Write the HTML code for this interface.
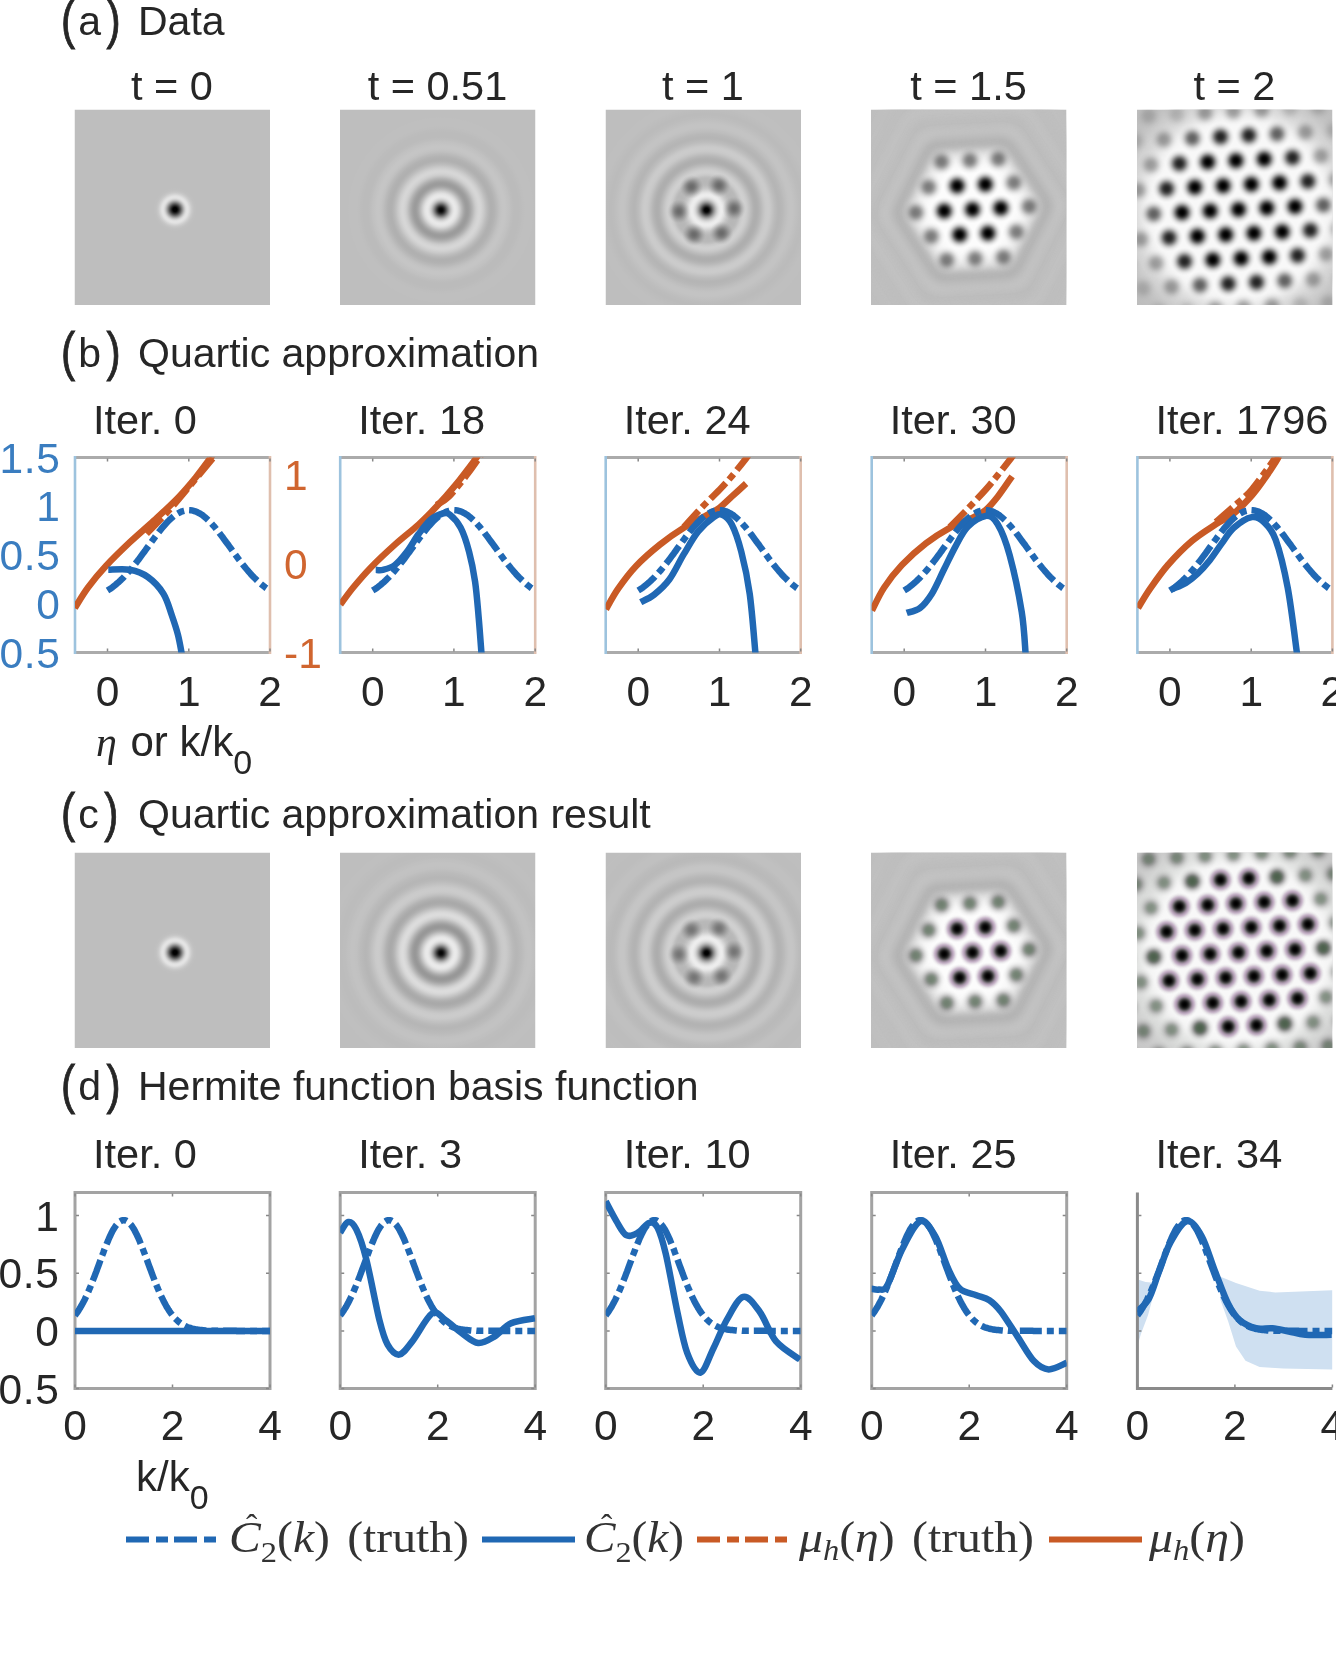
<!DOCTYPE html>
<html><head><meta charset="utf-8"><style>
html,body{margin:0;padding:0;background:#fff;width:1336px;height:1670px;overflow:hidden}
</style></head><body>
<svg width="1336" height="1670" viewBox="0 0 1336 1670" style="position:absolute;left:0;top:0;filter:blur(0.7px)">
<rect width="1336" height="1670" fill="#fff"/>
<text transform="translate(61,37.5) scale(0.8,1)" font-family='"Liberation Sans", sans-serif' fill="#262626" stroke="#262626" stroke-width="0.9" font-size="53">(</text>
<text x="78.3" y="35.0" font-family='"Liberation Sans", sans-serif' fill="#262626" font-size="41">a</text>
<text transform="translate(106.6,37.5) scale(0.8,1)" font-family='"Liberation Sans", sans-serif' fill="#262626" stroke="#262626" stroke-width="0.9" font-size="53">)</text>
<text x="138" y="35.0" font-family='"Liberation Sans", sans-serif' fill="#262626" font-size="41">Data</text>
<text transform="translate(61,369.5) scale(0.8,1)" font-family='"Liberation Sans", sans-serif' fill="#262626" stroke="#262626" stroke-width="0.9" font-size="53">(</text>
<text x="78.3" y="367.0" font-family='"Liberation Sans", sans-serif' fill="#262626" font-size="41">b</text>
<text transform="translate(106.6,369.5) scale(0.8,1)" font-family='"Liberation Sans", sans-serif' fill="#262626" stroke="#262626" stroke-width="0.9" font-size="53">)</text>
<text x="138" y="367.0" font-family='"Liberation Sans", sans-serif' fill="#262626" font-size="41">Quartic approximation</text>
<text transform="translate(61,830.5) scale(0.8,1)" font-family='"Liberation Sans", sans-serif' fill="#262626" stroke="#262626" stroke-width="0.9" font-size="53">(</text>
<text x="78.3" y="828.0" font-family='"Liberation Sans", sans-serif' fill="#262626" font-size="41">c</text>
<text transform="translate(104.3,830.5) scale(0.8,1)" font-family='"Liberation Sans", sans-serif' fill="#262626" stroke="#262626" stroke-width="0.9" font-size="53">)</text>
<text x="138" y="828.0" font-family='"Liberation Sans", sans-serif' fill="#262626" font-size="41">Quartic approximation result</text>
<text transform="translate(61,1102.5) scale(0.8,1)" font-family='"Liberation Sans", sans-serif' fill="#262626" stroke="#262626" stroke-width="0.9" font-size="53">(</text>
<text x="78.3" y="1100.0" font-family='"Liberation Sans", sans-serif' fill="#262626" font-size="41">d</text>
<text transform="translate(106.6,1102.5) scale(0.8,1)" font-family='"Liberation Sans", sans-serif' fill="#262626" stroke="#262626" stroke-width="0.9" font-size="53">)</text>
<text x="138" y="1100.0" font-family='"Liberation Sans", sans-serif' fill="#262626" font-size="41">Hermite function basis function</text>
<text x="172.0" y="100.0" font-size="41.5" text-anchor="middle" fill="#262626" font-family='"Liberation Sans", sans-serif' >t = 0</text>
<text x="437.5" y="100.0" font-size="41.5" text-anchor="middle" fill="#262626" font-family='"Liberation Sans", sans-serif' >t = 0.51</text>
<text x="703.0" y="100.0" font-size="41.5" text-anchor="middle" fill="#262626" font-family='"Liberation Sans", sans-serif' >t = 1</text>
<text x="968.5" y="100.0" font-size="41.5" text-anchor="middle" fill="#262626" font-family='"Liberation Sans", sans-serif' >t = 1.5</text>
<text x="1234.5" y="100.0" font-size="41.5" text-anchor="middle" fill="#262626" font-family='"Liberation Sans", sans-serif' >t = 2</text>
<text x="93.0" y="434.0" font-size="41.5" text-anchor="start" fill="#262626" font-family='"Liberation Sans", sans-serif' >Iter. 0</text>
<text x="358.2" y="434.0" font-size="41.5" text-anchor="start" fill="#262626" font-family='"Liberation Sans", sans-serif' >Iter. 18</text>
<text x="623.7" y="434.0" font-size="41.5" text-anchor="start" fill="#262626" font-family='"Liberation Sans", sans-serif' >Iter. 24</text>
<text x="889.7" y="434.0" font-size="41.5" text-anchor="start" fill="#262626" font-family='"Liberation Sans", sans-serif' >Iter. 30</text>
<text x="1155.4" y="434.0" font-size="41.5" text-anchor="start" fill="#262626" font-family='"Liberation Sans", sans-serif' >Iter. 1796</text>
<text x="93.0" y="1168.0" font-size="41.5" text-anchor="start" fill="#262626" font-family='"Liberation Sans", sans-serif' >Iter. 0</text>
<text x="358.2" y="1168.0" font-size="41.5" text-anchor="start" fill="#262626" font-family='"Liberation Sans", sans-serif' >Iter. 3</text>
<text x="623.7" y="1168.0" font-size="41.5" text-anchor="start" fill="#262626" font-family='"Liberation Sans", sans-serif' >Iter. 10</text>
<text x="889.7" y="1168.0" font-size="41.5" text-anchor="start" fill="#262626" font-family='"Liberation Sans", sans-serif' >Iter. 25</text>
<text x="1155.4" y="1168.0" font-size="41.5" text-anchor="start" fill="#262626" font-family='"Liberation Sans", sans-serif' >Iter. 34</text>
<defs><clipPath id="cs1"><rect x="74.5" y="109.5" width="195.5" height="195.5"/></clipPath></defs>
<defs><radialGradient id="rg2" gradientUnits="userSpaceOnUse" cx="175.0" cy="209.5" r="30"><stop offset="0.0000" stop-color="#000000"/><stop offset="0.0167" stop-color="#000000"/><stop offset="0.0333" stop-color="#000000"/><stop offset="0.0500" stop-color="#000000"/><stop offset="0.0667" stop-color="#030303"/><stop offset="0.0833" stop-color="#0b0b0b"/><stop offset="0.1000" stop-color="#161616"/><stop offset="0.1167" stop-color="#212121"/><stop offset="0.1333" stop-color="#2e2e2e"/><stop offset="0.1500" stop-color="#3b3b3b"/><stop offset="0.1667" stop-color="#4a4a4a"/><stop offset="0.1833" stop-color="#585858"/><stop offset="0.2000" stop-color="#676767"/><stop offset="0.2167" stop-color="#767676"/><stop offset="0.2333" stop-color="#858585"/><stop offset="0.2500" stop-color="#939393"/><stop offset="0.2667" stop-color="#a1a1a1"/><stop offset="0.2833" stop-color="#aeaeae"/><stop offset="0.3000" stop-color="#bbbbbb"/><stop offset="0.3167" stop-color="#c5c5c5"/><stop offset="0.3333" stop-color="#cfcfcf"/><stop offset="0.3500" stop-color="#d7d7d7"/><stop offset="0.3667" stop-color="#dddddd"/><stop offset="0.3833" stop-color="#e1e1e1"/><stop offset="0.4000" stop-color="#e3e3e3"/><stop offset="0.4167" stop-color="#e4e4e4"/><stop offset="0.4333" stop-color="#e3e3e3"/><stop offset="0.4500" stop-color="#e1e1e1"/><stop offset="0.4667" stop-color="#dedede"/><stop offset="0.4833" stop-color="#dadada"/><stop offset="0.5000" stop-color="#d6d6d6"/><stop offset="0.5167" stop-color="#d2d2d2"/><stop offset="0.5333" stop-color="#cfcfcf"/><stop offset="0.5500" stop-color="#cbcbcb"/><stop offset="0.5667" stop-color="#c8c8c8"/><stop offset="0.5833" stop-color="#c6c6c6"/><stop offset="0.6000" stop-color="#c4c4c4"/><stop offset="0.6167" stop-color="#c2c2c2"/><stop offset="0.6333" stop-color="#c1c1c1"/><stop offset="0.6500" stop-color="#c0c0c0"/><stop offset="0.6667" stop-color="#bfbfbf"/><stop offset="0.6833" stop-color="#bfbfbf"/><stop offset="0.7000" stop-color="#bfbfbf"/><stop offset="0.7167" stop-color="#bebebe"/><stop offset="0.7333" stop-color="#bebebe"/><stop offset="0.7500" stop-color="#bebebe"/><stop offset="0.7667" stop-color="#bebebe"/><stop offset="0.7833" stop-color="#bebebe"/><stop offset="0.8000" stop-color="#bebebe"/><stop offset="0.8167" stop-color="#bebebe"/><stop offset="0.8333" stop-color="#bebebe"/><stop offset="0.8500" stop-color="#bebebe"/><stop offset="0.8667" stop-color="#bebebe"/><stop offset="0.8833" stop-color="#bebebe"/><stop offset="0.9000" stop-color="#bebebe"/><stop offset="0.9167" stop-color="#bebebe"/><stop offset="0.9333" stop-color="#bebebe"/><stop offset="0.9500" stop-color="#bebebe"/><stop offset="0.9667" stop-color="#bebebe"/><stop offset="0.9833" stop-color="#bebebe"/><stop offset="1.0000" stop-color="#bebebe"/></radialGradient></defs>
<g clip-path="url(#cs1)"><rect x="74.5" y="109.5" width="195.5" height="195.5" fill="#bebebe"/>
<circle cx="175.0" cy="209.5" r="30" fill="url(#rg2)"/></g>
<defs><clipPath id="cs3"><rect x="340.0" y="109.5" width="195.5" height="195.5"/></clipPath></defs>
<defs><radialGradient id="rg4" gradientUnits="userSpaceOnUse" cx="441.0" cy="210.0" r="150"><stop offset="0.0000" stop-color="#050505"/><stop offset="0.0067" stop-color="#050505"/><stop offset="0.0133" stop-color="#0e0e0e"/><stop offset="0.0200" stop-color="#202020"/><stop offset="0.0267" stop-color="#373737"/><stop offset="0.0333" stop-color="#525252"/><stop offset="0.0400" stop-color="#6e6e6e"/><stop offset="0.0467" stop-color="#898989"/><stop offset="0.0533" stop-color="#a2a2a2"/><stop offset="0.0600" stop-color="#b8b8b8"/><stop offset="0.0667" stop-color="#cacaca"/><stop offset="0.0733" stop-color="#d7d7d7"/><stop offset="0.0800" stop-color="#e1e1e1"/><stop offset="0.0867" stop-color="#e7e7e7"/><stop offset="0.0933" stop-color="#e9e9e9"/><stop offset="0.1000" stop-color="#e7e7e7"/><stop offset="0.1067" stop-color="#e3e3e3"/><stop offset="0.1133" stop-color="#dddddd"/><stop offset="0.1200" stop-color="#d4d4d4"/><stop offset="0.1267" stop-color="#cbcbcb"/><stop offset="0.1333" stop-color="#c0c0c0"/><stop offset="0.1400" stop-color="#b7b7b7"/><stop offset="0.1467" stop-color="#aeaeae"/><stop offset="0.1533" stop-color="#a6a6a6"/><stop offset="0.1600" stop-color="#a0a0a0"/><stop offset="0.1667" stop-color="#9c9c9c"/><stop offset="0.1733" stop-color="#9b9b9b"/><stop offset="0.1800" stop-color="#9c9c9c"/><stop offset="0.1867" stop-color="#9f9f9f"/><stop offset="0.1933" stop-color="#a4a4a4"/><stop offset="0.2000" stop-color="#aaaaaa"/><stop offset="0.2067" stop-color="#b1b1b1"/><stop offset="0.2133" stop-color="#b8b8b8"/><stop offset="0.2200" stop-color="#c0c0c0"/><stop offset="0.2267" stop-color="#c7c7c7"/><stop offset="0.2333" stop-color="#cdcdcd"/><stop offset="0.2400" stop-color="#d1d1d1"/><stop offset="0.2467" stop-color="#d4d4d4"/><stop offset="0.2533" stop-color="#d6d6d6"/><stop offset="0.2600" stop-color="#d6d6d6"/><stop offset="0.2667" stop-color="#d4d4d4"/><stop offset="0.2733" stop-color="#d1d1d1"/><stop offset="0.2800" stop-color="#cdcdcd"/><stop offset="0.2867" stop-color="#c9c9c9"/><stop offset="0.2933" stop-color="#c4c4c4"/><stop offset="0.3000" stop-color="#bfbfbf"/><stop offset="0.3067" stop-color="#bbbbbb"/><stop offset="0.3133" stop-color="#b7b7b7"/><stop offset="0.3200" stop-color="#b4b4b4"/><stop offset="0.3267" stop-color="#b1b1b1"/><stop offset="0.3333" stop-color="#b0b0b0"/><stop offset="0.3400" stop-color="#b0b0b0"/><stop offset="0.3467" stop-color="#b1b1b1"/><stop offset="0.3533" stop-color="#b2b2b2"/><stop offset="0.3600" stop-color="#b4b4b4"/><stop offset="0.3667" stop-color="#b7b7b7"/><stop offset="0.3733" stop-color="#b9b9b9"/><stop offset="0.3800" stop-color="#bcbcbc"/><stop offset="0.3867" stop-color="#bfbfbf"/><stop offset="0.3933" stop-color="#c1c1c1"/><stop offset="0.4000" stop-color="#c3c3c3"/><stop offset="0.4067" stop-color="#c4c4c4"/><stop offset="0.4133" stop-color="#c5c5c5"/><stop offset="0.4200" stop-color="#c5c5c5"/><stop offset="0.4267" stop-color="#c5c5c5"/><stop offset="0.4333" stop-color="#c4c4c4"/><stop offset="0.4400" stop-color="#c3c3c3"/><stop offset="0.4467" stop-color="#c2c2c2"/><stop offset="0.4533" stop-color="#c1c1c1"/><stop offset="0.4600" stop-color="#c0c0c0"/><stop offset="0.4667" stop-color="#bebebe"/><stop offset="0.4733" stop-color="#bdbdbd"/><stop offset="0.4800" stop-color="#bcbcbc"/><stop offset="0.4867" stop-color="#bbbbbb"/><stop offset="0.4933" stop-color="#bbbbbb"/><stop offset="0.5000" stop-color="#bbbbbb"/><stop offset="0.5067" stop-color="#bbbbbb"/><stop offset="0.5133" stop-color="#bbbbbb"/><stop offset="0.5200" stop-color="#bbbbbb"/><stop offset="0.5267" stop-color="#bcbcbc"/><stop offset="0.5333" stop-color="#bcbcbc"/><stop offset="0.5400" stop-color="#bdbdbd"/><stop offset="0.5467" stop-color="#bebebe"/><stop offset="0.5533" stop-color="#bebebe"/><stop offset="0.5600" stop-color="#bfbfbf"/><stop offset="0.5667" stop-color="#bfbfbf"/><stop offset="0.5733" stop-color="#bfbfbf"/><stop offset="0.5800" stop-color="#bfbfbf"/><stop offset="0.5867" stop-color="#bfbfbf"/><stop offset="0.5933" stop-color="#bfbfbf"/><stop offset="0.6000" stop-color="#bfbfbf"/><stop offset="0.6067" stop-color="#bfbfbf"/><stop offset="0.6133" stop-color="#bfbfbf"/><stop offset="0.6200" stop-color="#bebebe"/><stop offset="0.6267" stop-color="#bebebe"/><stop offset="0.6333" stop-color="#bebebe"/><stop offset="0.6400" stop-color="#bebebe"/><stop offset="0.6467" stop-color="#bebebe"/><stop offset="0.6533" stop-color="#bebebe"/><stop offset="0.6600" stop-color="#bebebe"/><stop offset="0.6667" stop-color="#bebebe"/><stop offset="0.6733" stop-color="#bebebe"/><stop offset="0.6800" stop-color="#bebebe"/><stop offset="0.6867" stop-color="#bebebe"/><stop offset="0.6933" stop-color="#bebebe"/><stop offset="0.7000" stop-color="#bebebe"/><stop offset="0.7067" stop-color="#bebebe"/><stop offset="0.7133" stop-color="#bebebe"/><stop offset="0.7200" stop-color="#bebebe"/><stop offset="0.7267" stop-color="#bebebe"/><stop offset="0.7333" stop-color="#bebebe"/><stop offset="0.7400" stop-color="#bebebe"/><stop offset="0.7467" stop-color="#bebebe"/><stop offset="0.7533" stop-color="#bebebe"/><stop offset="0.7600" stop-color="#bebebe"/><stop offset="0.7667" stop-color="#bebebe"/><stop offset="0.7733" stop-color="#bebebe"/><stop offset="0.7800" stop-color="#bebebe"/><stop offset="0.7867" stop-color="#bebebe"/><stop offset="0.7933" stop-color="#bebebe"/><stop offset="0.8000" stop-color="#bebebe"/><stop offset="0.8067" stop-color="#bebebe"/><stop offset="0.8133" stop-color="#bebebe"/><stop offset="0.8200" stop-color="#bebebe"/><stop offset="0.8267" stop-color="#bebebe"/><stop offset="0.8333" stop-color="#bebebe"/><stop offset="0.8400" stop-color="#bebebe"/><stop offset="0.8467" stop-color="#bebebe"/><stop offset="0.8533" stop-color="#bebebe"/><stop offset="0.8600" stop-color="#bebebe"/><stop offset="0.8667" stop-color="#bebebe"/><stop offset="0.8733" stop-color="#bebebe"/><stop offset="0.8800" stop-color="#bebebe"/><stop offset="0.8867" stop-color="#bebebe"/><stop offset="0.8933" stop-color="#bebebe"/><stop offset="0.9000" stop-color="#bebebe"/><stop offset="0.9067" stop-color="#bebebe"/><stop offset="0.9133" stop-color="#bebebe"/><stop offset="0.9200" stop-color="#bebebe"/><stop offset="0.9267" stop-color="#bebebe"/><stop offset="0.9333" stop-color="#bebebe"/><stop offset="0.9400" stop-color="#bebebe"/><stop offset="0.9467" stop-color="#bebebe"/><stop offset="0.9533" stop-color="#bebebe"/><stop offset="0.9600" stop-color="#bebebe"/><stop offset="0.9667" stop-color="#bebebe"/><stop offset="0.9733" stop-color="#bebebe"/><stop offset="0.9800" stop-color="#bebebe"/><stop offset="0.9867" stop-color="#bebebe"/><stop offset="0.9933" stop-color="#bebebe"/><stop offset="1.0000" stop-color="#bebebe"/></radialGradient></defs>
<g clip-path="url(#cs3)"><rect x="340.0" y="109.5" width="195.5" height="195.5" fill="url(#rg4)"/>
</g>
<defs><clipPath id="cs5"><rect x="605.5" y="109.5" width="195.5" height="195.5"/></clipPath></defs>
<defs><radialGradient id="rg6" gradientUnits="userSpaceOnUse" cx="706.5" cy="210.0" r="150"><stop offset="0.0000" stop-color="#000000"/><stop offset="0.0067" stop-color="#000000"/><stop offset="0.0133" stop-color="#050505"/><stop offset="0.0200" stop-color="#191919"/><stop offset="0.0267" stop-color="#333333"/><stop offset="0.0333" stop-color="#4f4f4f"/><stop offset="0.0400" stop-color="#6b6b6b"/><stop offset="0.0467" stop-color="#868686"/><stop offset="0.0533" stop-color="#9e9e9e"/><stop offset="0.0600" stop-color="#b3b3b3"/><stop offset="0.0667" stop-color="#c5c5c5"/><stop offset="0.0733" stop-color="#d4d4d4"/><stop offset="0.0800" stop-color="#dfdfdf"/><stop offset="0.0867" stop-color="#e7e7e7"/><stop offset="0.0933" stop-color="#ececec"/><stop offset="0.1000" stop-color="#ededed"/><stop offset="0.1067" stop-color="#ebebeb"/><stop offset="0.1133" stop-color="#e6e6e6"/><stop offset="0.1200" stop-color="#e0e0e0"/><stop offset="0.1267" stop-color="#d8d8d8"/><stop offset="0.1333" stop-color="#d1d1d1"/><stop offset="0.1400" stop-color="#cacaca"/><stop offset="0.1467" stop-color="#c4c4c4"/><stop offset="0.1533" stop-color="#c0c0c0"/><stop offset="0.1600" stop-color="#bcbcbc"/><stop offset="0.1667" stop-color="#b9b9b9"/><stop offset="0.1733" stop-color="#b8b8b8"/><stop offset="0.1800" stop-color="#b7b7b7"/><stop offset="0.1867" stop-color="#b7b7b7"/><stop offset="0.1933" stop-color="#b7b7b7"/><stop offset="0.2000" stop-color="#b8b8b8"/><stop offset="0.2067" stop-color="#b8b8b8"/><stop offset="0.2133" stop-color="#bababa"/><stop offset="0.2200" stop-color="#bebebe"/><stop offset="0.2267" stop-color="#c3c3c3"/><stop offset="0.2333" stop-color="#c9c9c9"/><stop offset="0.2400" stop-color="#cccccc"/><stop offset="0.2467" stop-color="#cfcfcf"/><stop offset="0.2533" stop-color="#d0d0d0"/><stop offset="0.2600" stop-color="#cfcfcf"/><stop offset="0.2667" stop-color="#cdcdcd"/><stop offset="0.2733" stop-color="#cacaca"/><stop offset="0.2800" stop-color="#c6c6c6"/><stop offset="0.2867" stop-color="#c2c2c2"/><stop offset="0.2933" stop-color="#bdbdbd"/><stop offset="0.3000" stop-color="#b9b9b9"/><stop offset="0.3067" stop-color="#b5b5b5"/><stop offset="0.3133" stop-color="#b1b1b1"/><stop offset="0.3200" stop-color="#afafaf"/><stop offset="0.3267" stop-color="#aeaeae"/><stop offset="0.3333" stop-color="#aeaeae"/><stop offset="0.3400" stop-color="#afafaf"/><stop offset="0.3467" stop-color="#b1b1b1"/><stop offset="0.3533" stop-color="#b4b4b4"/><stop offset="0.3600" stop-color="#b7b7b7"/><stop offset="0.3667" stop-color="#bbbbbb"/><stop offset="0.3733" stop-color="#bfbfbf"/><stop offset="0.3800" stop-color="#c3c3c3"/><stop offset="0.3867" stop-color="#c6c6c6"/><stop offset="0.3933" stop-color="#c9c9c9"/><stop offset="0.4000" stop-color="#cacaca"/><stop offset="0.4067" stop-color="#cbcbcb"/><stop offset="0.4133" stop-color="#cbcbcb"/><stop offset="0.4200" stop-color="#cacaca"/><stop offset="0.4267" stop-color="#c8c8c8"/><stop offset="0.4333" stop-color="#c5c5c5"/><stop offset="0.4400" stop-color="#c2c2c2"/><stop offset="0.4467" stop-color="#bfbfbf"/><stop offset="0.4533" stop-color="#bcbcbc"/><stop offset="0.4600" stop-color="#bababa"/><stop offset="0.4667" stop-color="#b8b8b8"/><stop offset="0.4733" stop-color="#b6b6b6"/><stop offset="0.4800" stop-color="#b5b5b5"/><stop offset="0.4867" stop-color="#b5b5b5"/><stop offset="0.4933" stop-color="#b6b6b6"/><stop offset="0.5000" stop-color="#b7b7b7"/><stop offset="0.5067" stop-color="#b8b8b8"/><stop offset="0.5133" stop-color="#bababa"/><stop offset="0.5200" stop-color="#bcbcbc"/><stop offset="0.5267" stop-color="#bebebe"/><stop offset="0.5333" stop-color="#bfbfbf"/><stop offset="0.5400" stop-color="#c1c1c1"/><stop offset="0.5467" stop-color="#c2c2c2"/><stop offset="0.5533" stop-color="#c3c3c3"/><stop offset="0.5600" stop-color="#c3c3c3"/><stop offset="0.5667" stop-color="#c3c3c3"/><stop offset="0.5733" stop-color="#c3c3c3"/><stop offset="0.5800" stop-color="#c2c2c2"/><stop offset="0.5867" stop-color="#c1c1c1"/><stop offset="0.5933" stop-color="#c0c0c0"/><stop offset="0.6000" stop-color="#bfbfbf"/><stop offset="0.6067" stop-color="#bebebe"/><stop offset="0.6133" stop-color="#bdbdbd"/><stop offset="0.6200" stop-color="#bcbcbc"/><stop offset="0.6267" stop-color="#bcbcbc"/><stop offset="0.6333" stop-color="#bbbbbb"/><stop offset="0.6400" stop-color="#bbbbbb"/><stop offset="0.6467" stop-color="#bbbbbb"/><stop offset="0.6533" stop-color="#bcbcbc"/><stop offset="0.6600" stop-color="#bcbcbc"/><stop offset="0.6667" stop-color="#bdbdbd"/><stop offset="0.6733" stop-color="#bdbdbd"/><stop offset="0.6800" stop-color="#bebebe"/><stop offset="0.6867" stop-color="#bebebe"/><stop offset="0.6933" stop-color="#bfbfbf"/><stop offset="0.7000" stop-color="#bfbfbf"/><stop offset="0.7067" stop-color="#bfbfbf"/><stop offset="0.7133" stop-color="#bfbfbf"/><stop offset="0.7200" stop-color="#bfbfbf"/><stop offset="0.7267" stop-color="#bfbfbf"/><stop offset="0.7333" stop-color="#bfbfbf"/><stop offset="0.7400" stop-color="#bfbfbf"/><stop offset="0.7467" stop-color="#bebebe"/><stop offset="0.7533" stop-color="#bebebe"/><stop offset="0.7600" stop-color="#bebebe"/><stop offset="0.7667" stop-color="#bebebe"/><stop offset="0.7733" stop-color="#bebebe"/><stop offset="0.7800" stop-color="#bebebe"/><stop offset="0.7867" stop-color="#bebebe"/><stop offset="0.7933" stop-color="#bebebe"/><stop offset="0.8000" stop-color="#bebebe"/><stop offset="0.8067" stop-color="#bebebe"/><stop offset="0.8133" stop-color="#bebebe"/><stop offset="0.8200" stop-color="#bebebe"/><stop offset="0.8267" stop-color="#bebebe"/><stop offset="0.8333" stop-color="#bebebe"/><stop offset="0.8400" stop-color="#bebebe"/><stop offset="0.8467" stop-color="#bebebe"/><stop offset="0.8533" stop-color="#bebebe"/><stop offset="0.8600" stop-color="#bebebe"/><stop offset="0.8667" stop-color="#bebebe"/><stop offset="0.8733" stop-color="#bebebe"/><stop offset="0.8800" stop-color="#bebebe"/><stop offset="0.8867" stop-color="#bebebe"/><stop offset="0.8933" stop-color="#bebebe"/><stop offset="0.9000" stop-color="#bebebe"/><stop offset="0.9067" stop-color="#bebebe"/><stop offset="0.9133" stop-color="#bebebe"/><stop offset="0.9200" stop-color="#bebebe"/><stop offset="0.9267" stop-color="#bebebe"/><stop offset="0.9333" stop-color="#bebebe"/><stop offset="0.9400" stop-color="#bebebe"/><stop offset="0.9467" stop-color="#bebebe"/><stop offset="0.9533" stop-color="#bebebe"/><stop offset="0.9600" stop-color="#bebebe"/><stop offset="0.9667" stop-color="#bebebe"/><stop offset="0.9733" stop-color="#bebebe"/><stop offset="0.9800" stop-color="#bebebe"/><stop offset="0.9867" stop-color="#bebebe"/><stop offset="0.9933" stop-color="#bebebe"/><stop offset="1.0000" stop-color="#bebebe"/></radialGradient></defs>
<g clip-path="url(#cs5)"><rect x="605.5" y="109.5" width="195.5" height="195.5" fill="url(#rg6)"/>
<defs><radialGradient id="dotg"><stop offset="0.000" stop-color="#000" stop-opacity="1.000"/><stop offset="0.036" stop-color="#000" stop-opacity="0.999"/><stop offset="0.071" stop-color="#000" stop-opacity="0.996"/><stop offset="0.107" stop-color="#000" stop-opacity="0.987"/><stop offset="0.143" stop-color="#000" stop-opacity="0.973"/><stop offset="0.179" stop-color="#000" stop-opacity="0.953"/><stop offset="0.214" stop-color="#000" stop-opacity="0.925"/><stop offset="0.250" stop-color="#000" stop-opacity="0.890"/><stop offset="0.286" stop-color="#000" stop-opacity="0.848"/><stop offset="0.321" stop-color="#000" stop-opacity="0.800"/><stop offset="0.357" stop-color="#000" stop-opacity="0.745"/><stop offset="0.393" stop-color="#000" stop-opacity="0.686"/><stop offset="0.429" stop-color="#000" stop-opacity="0.623"/><stop offset="0.464" stop-color="#000" stop-opacity="0.558"/><stop offset="0.500" stop-color="#000" stop-opacity="0.492"/><stop offset="0.536" stop-color="#000" stop-opacity="0.428"/><stop offset="0.571" stop-color="#000" stop-opacity="0.365"/><stop offset="0.607" stop-color="#000" stop-opacity="0.307"/><stop offset="0.643" stop-color="#000" stop-opacity="0.253"/><stop offset="0.679" stop-color="#000" stop-opacity="0.204"/><stop offset="0.714" stop-color="#000" stop-opacity="0.161"/><stop offset="0.750" stop-color="#000" stop-opacity="0.124"/><stop offset="0.786" stop-color="#000" stop-opacity="0.092"/><stop offset="0.821" stop-color="#000" stop-opacity="0.067"/><stop offset="0.857" stop-color="#000" stop-opacity="0.046"/><stop offset="0.893" stop-color="#000" stop-opacity="0.029"/><stop offset="0.929" stop-color="#000" stop-opacity="0.017"/><stop offset="0.964" stop-color="#000" stop-opacity="0.007"/><stop offset="1.000" stop-color="#000" stop-opacity="0.000"/></radialGradient>
<radialGradient id="dotsoft"><stop offset="0.000" stop-color="#000" stop-opacity="1.000"/><stop offset="0.036" stop-color="#000" stop-opacity="0.996"/><stop offset="0.071" stop-color="#000" stop-opacity="0.984"/><stop offset="0.107" stop-color="#000" stop-opacity="0.963"/><stop offset="0.143" stop-color="#000" stop-opacity="0.936"/><stop offset="0.179" stop-color="#000" stop-opacity="0.901"/><stop offset="0.214" stop-color="#000" stop-opacity="0.861"/><stop offset="0.250" stop-color="#000" stop-opacity="0.815"/><stop offset="0.286" stop-color="#000" stop-opacity="0.765"/><stop offset="0.321" stop-color="#000" stop-opacity="0.712"/><stop offset="0.357" stop-color="#000" stop-opacity="0.657"/><stop offset="0.393" stop-color="#000" stop-opacity="0.601"/><stop offset="0.429" stop-color="#000" stop-opacity="0.545"/><stop offset="0.464" stop-color="#000" stop-opacity="0.489"/><stop offset="0.500" stop-color="#000" stop-opacity="0.434"/><stop offset="0.536" stop-color="#000" stop-opacity="0.382"/><stop offset="0.571" stop-color="#000" stop-opacity="0.333"/><stop offset="0.607" stop-color="#000" stop-opacity="0.286"/><stop offset="0.643" stop-color="#000" stop-opacity="0.243"/><stop offset="0.679" stop-color="#000" stop-opacity="0.203"/><stop offset="0.714" stop-color="#000" stop-opacity="0.168"/><stop offset="0.750" stop-color="#000" stop-opacity="0.135"/><stop offset="0.786" stop-color="#000" stop-opacity="0.107"/><stop offset="0.821" stop-color="#000" stop-opacity="0.082"/><stop offset="0.857" stop-color="#000" stop-opacity="0.060"/><stop offset="0.893" stop-color="#000" stop-opacity="0.041"/><stop offset="0.929" stop-color="#000" stop-opacity="0.025"/><stop offset="0.964" stop-color="#000" stop-opacity="0.011"/><stop offset="1.000" stop-color="#000" stop-opacity="0.000"/></radialGradient>
<radialGradient id="spotg"><stop offset="0.000" stop-color="#000" stop-opacity="1.000"/><stop offset="0.036" stop-color="#000" stop-opacity="0.998"/><stop offset="0.071" stop-color="#000" stop-opacity="0.992"/><stop offset="0.107" stop-color="#000" stop-opacity="0.981"/><stop offset="0.143" stop-color="#000" stop-opacity="0.964"/><stop offset="0.179" stop-color="#000" stop-opacity="0.942"/><stop offset="0.214" stop-color="#000" stop-opacity="0.914"/><stop offset="0.250" stop-color="#000" stop-opacity="0.881"/><stop offset="0.286" stop-color="#000" stop-opacity="0.844"/><stop offset="0.321" stop-color="#000" stop-opacity="0.802"/><stop offset="0.357" stop-color="#000" stop-opacity="0.756"/><stop offset="0.393" stop-color="#000" stop-opacity="0.708"/><stop offset="0.429" stop-color="#000" stop-opacity="0.657"/><stop offset="0.464" stop-color="#000" stop-opacity="0.604"/><stop offset="0.500" stop-color="#000" stop-opacity="0.551"/><stop offset="0.536" stop-color="#000" stop-opacity="0.497"/><stop offset="0.571" stop-color="#000" stop-opacity="0.444"/><stop offset="0.607" stop-color="#000" stop-opacity="0.392"/><stop offset="0.643" stop-color="#000" stop-opacity="0.342"/><stop offset="0.679" stop-color="#000" stop-opacity="0.294"/><stop offset="0.714" stop-color="#000" stop-opacity="0.249"/><stop offset="0.750" stop-color="#000" stop-opacity="0.206"/><stop offset="0.786" stop-color="#000" stop-opacity="0.167"/><stop offset="0.821" stop-color="#000" stop-opacity="0.131"/><stop offset="0.857" stop-color="#000" stop-opacity="0.098"/><stop offset="0.893" stop-color="#000" stop-opacity="0.069"/><stop offset="0.929" stop-color="#000" stop-opacity="0.043"/><stop offset="0.964" stop-color="#000" stop-opacity="0.020"/><stop offset="1.000" stop-color="#000" stop-opacity="0.000"/></radialGradient>
<filter id="blur6" x="-50%" y="-50%" width="200%" height="200%"><feGaussianBlur stdDeviation="7"/></filter>
<filter id="blur4" x="-50%" y="-50%" width="200%" height="200%"><feGaussianBlur stdDeviation="4.5"/></filter>
<filter id="blur3" x="-50%" y="-50%" width="200%" height="200%"><feGaussianBlur stdDeviation="3"/></filter>
<filter id="blur2" x="-50%" y="-50%" width="200%" height="200%"><feGaussianBlur stdDeviation="1.6"/></filter>
</defs>
<circle cx="734.0" cy="208.6" r="12" fill="url(#spotg)" opacity="0.42"/>
<circle cx="721.5" cy="233.1" r="12" fill="url(#spotg)" opacity="0.42"/>
<circle cx="694.0" cy="234.5" r="12" fill="url(#spotg)" opacity="0.42"/>
<circle cx="679.0" cy="211.4" r="12" fill="url(#spotg)" opacity="0.42"/>
<circle cx="691.5" cy="186.9" r="12" fill="url(#spotg)" opacity="0.42"/>
<circle cx="719.0" cy="185.5" r="12" fill="url(#spotg)" opacity="0.42"/>
</g>
<defs><clipPath id="cs7"><rect x="871.0" y="109.5" width="195.5" height="195.5"/></clipPath></defs>
<g clip-path="url(#cs7)"><rect x="871.0" y="109.5" width="195.5" height="195.5" fill="#bebebe"/>
<polygon points="1108.3,202.4 1046.6,323.6 910.8,330.7 836.7,216.6 898.4,95.4 1034.2,88.3" fill="none" stroke="#c1c1c1" stroke-width="11" stroke-linejoin="round" filter="url(#blur6)"/>
<polygon points="1096.3,203.0 1040.0,313.5 916.2,320.0 848.7,216.0 905.0,105.5 1028.8,99.0" fill="none" stroke="#bbbbbb" stroke-width="11" stroke-linejoin="round" filter="url(#blur6)"/>
<polygon points="1083.3,203.7 1033.0,302.6 922.1,308.4 861.7,215.3 912.0,116.4 1022.9,110.6" fill="none" stroke="#c6c6c6" stroke-width="11" stroke-linejoin="round" filter="url(#blur6)"/>
<polygon points="1070.4,204.4 1025.9,291.7 928.0,296.8 874.6,214.6 919.1,127.3 1017.0,122.2" fill="none" stroke="#b6b6b6" stroke-width="11" stroke-linejoin="round" filter="url(#blur6)"/>
<polygon points="1058.4,205.0 1019.3,281.6 933.5,286.1 886.6,214.0 925.7,137.4 1011.5,132.9" fill="none" stroke="#cdcdcd" stroke-width="11" stroke-linejoin="round" filter="url(#blur6)"/>
<polygon points="1047.4,205.6 1013.3,272.4 938.5,276.3 897.6,213.4 931.7,146.6 1006.5,142.7" fill="none" stroke="#a8a8a8" stroke-width="11" stroke-linejoin="round" filter="url(#blur6)"/>
<polygon points="1035.4,206.2 1006.8,262.3 943.9,265.6 909.6,212.8 938.2,156.7 1001.1,153.4" fill="#dadada" stroke="#dadada" stroke-width="8" stroke-linejoin="round" filter="url(#blur4)"/>
<polygon points="1032.4,206.4 1005.2,259.8 945.3,263.0 912.6,212.6 939.8,159.2 999.7,156.0" fill="#fcfcfc" filter="url(#blur6)"/>
<circle cx="916.0" cy="212.5" r="14" fill="url(#dotg)" opacity="0.48"/>
<circle cx="928.8" cy="187.2" r="14" fill="url(#dotg)" opacity="0.48"/>
<circle cx="941.7" cy="162.0" r="14" fill="url(#dotg)" opacity="0.48"/>
<circle cx="931.4" cy="236.2" r="14" fill="url(#dotg)" opacity="0.48"/>
<circle cx="944.2" cy="211.0" r="14" fill="url(#dotg)" opacity="1.00"/>
<circle cx="957.1" cy="185.8" r="14" fill="url(#dotg)" opacity="1.00"/>
<circle cx="969.9" cy="160.6" r="14" fill="url(#dotg)" opacity="0.48"/>
<circle cx="946.8" cy="259.9" r="14" fill="url(#dotg)" opacity="0.48"/>
<circle cx="959.7" cy="234.7" r="14" fill="url(#dotg)" opacity="1.00"/>
<circle cx="972.5" cy="209.5" r="14" fill="url(#dotg)" opacity="1.00"/>
<circle cx="985.3" cy="184.3" r="14" fill="url(#dotg)" opacity="1.00"/>
<circle cx="998.2" cy="159.1" r="14" fill="url(#dotg)" opacity="0.48"/>
<circle cx="975.1" cy="258.4" r="14" fill="url(#dotg)" opacity="0.48"/>
<circle cx="987.9" cy="233.2" r="14" fill="url(#dotg)" opacity="1.00"/>
<circle cx="1000.8" cy="208.0" r="14" fill="url(#dotg)" opacity="1.00"/>
<circle cx="1013.6" cy="182.8" r="14" fill="url(#dotg)" opacity="0.48"/>
<circle cx="1003.3" cy="257.0" r="14" fill="url(#dotg)" opacity="0.48"/>
<circle cx="1016.2" cy="231.8" r="14" fill="url(#dotg)" opacity="0.48"/>
<circle cx="1029.0" cy="206.5" r="14" fill="url(#dotg)" opacity="0.48"/>
</g>
<defs><clipPath id="cs8"><rect x="1137.0" y="109.5" width="195.5" height="195.5"/></clipPath></defs>
<g clip-path="url(#cs8)"><rect x="1137.0" y="109.5" width="195.5" height="195.5" fill="#bebebe"/>
<circle cx="1238.5" cy="209.5" r="118" fill="#d4d4d4" filter="url(#blur6)"/>
<circle cx="1238.5" cy="209.5" r="98" fill="#f8f8f8" filter="url(#blur6)"/>
<circle cx="1135.7" cy="141.3" r="14" fill="url(#dotg)" opacity="0.15"/>
<circle cx="1148.6" cy="116.0" r="14" fill="url(#dotg)" opacity="0.15"/>
<circle cx="1125.5" cy="215.4" r="14" fill="url(#dotg)" opacity="0.15"/>
<circle cx="1138.3" cy="190.2" r="14" fill="url(#dotg)" opacity="0.32"/>
<circle cx="1151.2" cy="165.0" r="14" fill="url(#dotg)" opacity="0.32"/>
<circle cx="1164.0" cy="139.8" r="14" fill="url(#dotg)" opacity="0.32"/>
<circle cx="1176.8" cy="114.6" r="14" fill="url(#dotg)" opacity="0.15"/>
<circle cx="1128.0" cy="264.4" r="14" fill="url(#dotg)" opacity="0.15"/>
<circle cx="1140.9" cy="239.2" r="14" fill="url(#dotg)" opacity="0.32"/>
<circle cx="1153.7" cy="213.9" r="14" fill="url(#dotg)" opacity="0.60"/>
<circle cx="1166.6" cy="188.7" r="14" fill="url(#dotg)" opacity="0.85"/>
<circle cx="1179.4" cy="163.5" r="14" fill="url(#dotg)" opacity="0.85"/>
<circle cx="1192.3" cy="138.3" r="14" fill="url(#dotg)" opacity="0.60"/>
<circle cx="1205.1" cy="113.1" r="14" fill="url(#dotg)" opacity="0.32"/>
<circle cx="1130.6" cy="313.3" r="14" fill="url(#dotg)" opacity="0.15"/>
<circle cx="1143.4" cy="288.1" r="14" fill="url(#dotg)" opacity="0.15"/>
<circle cx="1156.3" cy="262.9" r="14" fill="url(#dotg)" opacity="0.32"/>
<circle cx="1169.1" cy="237.7" r="14" fill="url(#dotg)" opacity="0.85"/>
<circle cx="1182.0" cy="212.5" r="14" fill="url(#dotg)" opacity="1.00"/>
<circle cx="1194.8" cy="187.2" r="14" fill="url(#dotg)" opacity="1.00"/>
<circle cx="1207.7" cy="162.0" r="14" fill="url(#dotg)" opacity="1.00"/>
<circle cx="1220.5" cy="136.8" r="14" fill="url(#dotg)" opacity="0.85"/>
<circle cx="1233.4" cy="111.6" r="14" fill="url(#dotg)" opacity="0.32"/>
<circle cx="1158.8" cy="311.8" r="14" fill="url(#dotg)" opacity="0.15"/>
<circle cx="1171.7" cy="286.6" r="14" fill="url(#dotg)" opacity="0.32"/>
<circle cx="1184.5" cy="261.4" r="14" fill="url(#dotg)" opacity="0.85"/>
<circle cx="1197.4" cy="236.2" r="14" fill="url(#dotg)" opacity="1.00"/>
<circle cx="1210.2" cy="211.0" r="14" fill="url(#dotg)" opacity="1.00"/>
<circle cx="1223.1" cy="185.8" r="14" fill="url(#dotg)" opacity="1.00"/>
<circle cx="1235.9" cy="160.6" r="14" fill="url(#dotg)" opacity="1.00"/>
<circle cx="1248.8" cy="135.3" r="14" fill="url(#dotg)" opacity="0.85"/>
<circle cx="1261.6" cy="110.1" r="14" fill="url(#dotg)" opacity="0.32"/>
<circle cx="1187.1" cy="310.4" r="14" fill="url(#dotg)" opacity="0.15"/>
<circle cx="1200.0" cy="285.1" r="14" fill="url(#dotg)" opacity="0.60"/>
<circle cx="1212.8" cy="259.9" r="14" fill="url(#dotg)" opacity="1.00"/>
<circle cx="1225.7" cy="234.7" r="14" fill="url(#dotg)" opacity="1.00"/>
<circle cx="1238.5" cy="209.5" r="14" fill="url(#dotg)" opacity="1.00"/>
<circle cx="1251.3" cy="184.3" r="14" fill="url(#dotg)" opacity="1.00"/>
<circle cx="1264.2" cy="159.1" r="14" fill="url(#dotg)" opacity="1.00"/>
<circle cx="1277.0" cy="133.9" r="14" fill="url(#dotg)" opacity="0.60"/>
<circle cx="1289.9" cy="108.6" r="14" fill="url(#dotg)" opacity="0.15"/>
<circle cx="1215.4" cy="308.9" r="14" fill="url(#dotg)" opacity="0.32"/>
<circle cx="1228.2" cy="283.7" r="14" fill="url(#dotg)" opacity="0.85"/>
<circle cx="1241.1" cy="258.4" r="14" fill="url(#dotg)" opacity="1.00"/>
<circle cx="1253.9" cy="233.2" r="14" fill="url(#dotg)" opacity="1.00"/>
<circle cx="1266.8" cy="208.0" r="14" fill="url(#dotg)" opacity="1.00"/>
<circle cx="1279.6" cy="182.8" r="14" fill="url(#dotg)" opacity="1.00"/>
<circle cx="1292.5" cy="157.6" r="14" fill="url(#dotg)" opacity="0.85"/>
<circle cx="1305.3" cy="132.4" r="14" fill="url(#dotg)" opacity="0.32"/>
<circle cx="1318.2" cy="107.2" r="14" fill="url(#dotg)" opacity="0.15"/>
<circle cx="1243.6" cy="307.4" r="14" fill="url(#dotg)" opacity="0.32"/>
<circle cx="1256.5" cy="282.2" r="14" fill="url(#dotg)" opacity="0.85"/>
<circle cx="1269.3" cy="257.0" r="14" fill="url(#dotg)" opacity="1.00"/>
<circle cx="1282.2" cy="231.8" r="14" fill="url(#dotg)" opacity="1.00"/>
<circle cx="1295.0" cy="206.5" r="14" fill="url(#dotg)" opacity="1.00"/>
<circle cx="1307.9" cy="181.3" r="14" fill="url(#dotg)" opacity="0.85"/>
<circle cx="1320.7" cy="156.1" r="14" fill="url(#dotg)" opacity="0.32"/>
<circle cx="1333.6" cy="130.9" r="14" fill="url(#dotg)" opacity="0.15"/>
<circle cx="1346.4" cy="105.7" r="14" fill="url(#dotg)" opacity="0.15"/>
<circle cx="1271.9" cy="305.9" r="14" fill="url(#dotg)" opacity="0.32"/>
<circle cx="1284.7" cy="280.7" r="14" fill="url(#dotg)" opacity="0.60"/>
<circle cx="1297.6" cy="255.5" r="14" fill="url(#dotg)" opacity="0.85"/>
<circle cx="1310.4" cy="230.3" r="14" fill="url(#dotg)" opacity="0.85"/>
<circle cx="1323.3" cy="205.1" r="14" fill="url(#dotg)" opacity="0.60"/>
<circle cx="1336.1" cy="179.8" r="14" fill="url(#dotg)" opacity="0.32"/>
<circle cx="1300.2" cy="304.4" r="14" fill="url(#dotg)" opacity="0.15"/>
<circle cx="1313.0" cy="279.2" r="14" fill="url(#dotg)" opacity="0.32"/>
<circle cx="1325.8" cy="254.0" r="14" fill="url(#dotg)" opacity="0.32"/>
<circle cx="1338.7" cy="228.8" r="14" fill="url(#dotg)" opacity="0.32"/>
<circle cx="1328.4" cy="303.0" r="14" fill="url(#dotg)" opacity="0.15"/>
<circle cx="1341.3" cy="277.7" r="14" fill="url(#dotg)" opacity="0.15"/>
</g>
<defs><clipPath id="cs9"><rect x="74.5" y="852.5" width="195.5" height="195.5"/></clipPath></defs>
<defs><radialGradient id="rg10" gradientUnits="userSpaceOnUse" cx="175.0" cy="952.5" r="30"><stop offset="0.0000" stop-color="#000000"/><stop offset="0.0167" stop-color="#000000"/><stop offset="0.0333" stop-color="#000000"/><stop offset="0.0500" stop-color="#000000"/><stop offset="0.0667" stop-color="#030303"/><stop offset="0.0833" stop-color="#0b0b0b"/><stop offset="0.1000" stop-color="#161616"/><stop offset="0.1167" stop-color="#212121"/><stop offset="0.1333" stop-color="#2e2e2e"/><stop offset="0.1500" stop-color="#3b3b3b"/><stop offset="0.1667" stop-color="#4a4a4a"/><stop offset="0.1833" stop-color="#585858"/><stop offset="0.2000" stop-color="#676767"/><stop offset="0.2167" stop-color="#767676"/><stop offset="0.2333" stop-color="#858585"/><stop offset="0.2500" stop-color="#939393"/><stop offset="0.2667" stop-color="#a1a1a1"/><stop offset="0.2833" stop-color="#aeaeae"/><stop offset="0.3000" stop-color="#bbbbbb"/><stop offset="0.3167" stop-color="#c5c5c5"/><stop offset="0.3333" stop-color="#cfcfcf"/><stop offset="0.3500" stop-color="#d7d7d7"/><stop offset="0.3667" stop-color="#dddddd"/><stop offset="0.3833" stop-color="#e1e1e1"/><stop offset="0.4000" stop-color="#e3e3e3"/><stop offset="0.4167" stop-color="#e4e4e4"/><stop offset="0.4333" stop-color="#e3e3e3"/><stop offset="0.4500" stop-color="#e1e1e1"/><stop offset="0.4667" stop-color="#dedede"/><stop offset="0.4833" stop-color="#dadada"/><stop offset="0.5000" stop-color="#d6d6d6"/><stop offset="0.5167" stop-color="#d2d2d2"/><stop offset="0.5333" stop-color="#cfcfcf"/><stop offset="0.5500" stop-color="#cbcbcb"/><stop offset="0.5667" stop-color="#c8c8c8"/><stop offset="0.5833" stop-color="#c6c6c6"/><stop offset="0.6000" stop-color="#c4c4c4"/><stop offset="0.6167" stop-color="#c2c2c2"/><stop offset="0.6333" stop-color="#c1c1c1"/><stop offset="0.6500" stop-color="#c0c0c0"/><stop offset="0.6667" stop-color="#bfbfbf"/><stop offset="0.6833" stop-color="#bfbfbf"/><stop offset="0.7000" stop-color="#bfbfbf"/><stop offset="0.7167" stop-color="#bebebe"/><stop offset="0.7333" stop-color="#bebebe"/><stop offset="0.7500" stop-color="#bebebe"/><stop offset="0.7667" stop-color="#bebebe"/><stop offset="0.7833" stop-color="#bebebe"/><stop offset="0.8000" stop-color="#bebebe"/><stop offset="0.8167" stop-color="#bebebe"/><stop offset="0.8333" stop-color="#bebebe"/><stop offset="0.8500" stop-color="#bebebe"/><stop offset="0.8667" stop-color="#bebebe"/><stop offset="0.8833" stop-color="#bebebe"/><stop offset="0.9000" stop-color="#bebebe"/><stop offset="0.9167" stop-color="#bebebe"/><stop offset="0.9333" stop-color="#bebebe"/><stop offset="0.9500" stop-color="#bebebe"/><stop offset="0.9667" stop-color="#bebebe"/><stop offset="0.9833" stop-color="#bebebe"/><stop offset="1.0000" stop-color="#bebebe"/></radialGradient></defs>
<g clip-path="url(#cs9)"><rect x="74.5" y="852.5" width="195.5" height="195.5" fill="#bebebe"/>
<circle cx="175.0" cy="952.5" r="30" fill="url(#rg10)"/></g>
<defs><clipPath id="cs11"><rect x="340.0" y="852.5" width="195.5" height="195.5"/></clipPath></defs>
<defs><radialGradient id="rg12" gradientUnits="userSpaceOnUse" cx="441.0" cy="953.0" r="150"><stop offset="0.0000" stop-color="#050505"/><stop offset="0.0067" stop-color="#050505"/><stop offset="0.0133" stop-color="#0e0e0e"/><stop offset="0.0200" stop-color="#202020"/><stop offset="0.0267" stop-color="#373737"/><stop offset="0.0333" stop-color="#525252"/><stop offset="0.0400" stop-color="#6e6e6e"/><stop offset="0.0467" stop-color="#898989"/><stop offset="0.0533" stop-color="#a2a2a2"/><stop offset="0.0600" stop-color="#b8b8b8"/><stop offset="0.0667" stop-color="#cacaca"/><stop offset="0.0733" stop-color="#d8d8d8"/><stop offset="0.0800" stop-color="#e2e2e2"/><stop offset="0.0867" stop-color="#e8e8e8"/><stop offset="0.0933" stop-color="#eaeaea"/><stop offset="0.1000" stop-color="#e9e9e9"/><stop offset="0.1067" stop-color="#e5e5e5"/><stop offset="0.1133" stop-color="#dedede"/><stop offset="0.1200" stop-color="#d5d5d5"/><stop offset="0.1267" stop-color="#cbcbcb"/><stop offset="0.1333" stop-color="#c1c1c1"/><stop offset="0.1400" stop-color="#b6b6b6"/><stop offset="0.1467" stop-color="#acacac"/><stop offset="0.1533" stop-color="#a4a4a4"/><stop offset="0.1600" stop-color="#9d9d9d"/><stop offset="0.1667" stop-color="#999999"/><stop offset="0.1733" stop-color="#979797"/><stop offset="0.1800" stop-color="#989898"/><stop offset="0.1867" stop-color="#9b9b9b"/><stop offset="0.1933" stop-color="#a0a0a0"/><stop offset="0.2000" stop-color="#a7a7a7"/><stop offset="0.2067" stop-color="#afafaf"/><stop offset="0.2133" stop-color="#b7b7b7"/><stop offset="0.2200" stop-color="#c0c0c0"/><stop offset="0.2267" stop-color="#c8c8c8"/><stop offset="0.2333" stop-color="#d0d0d0"/><stop offset="0.2400" stop-color="#d5d5d5"/><stop offset="0.2467" stop-color="#d9d9d9"/><stop offset="0.2533" stop-color="#dcdcdc"/><stop offset="0.2600" stop-color="#dcdcdc"/><stop offset="0.2667" stop-color="#dadada"/><stop offset="0.2733" stop-color="#d7d7d7"/><stop offset="0.2800" stop-color="#d2d2d2"/><stop offset="0.2867" stop-color="#cccccc"/><stop offset="0.2933" stop-color="#c6c6c6"/><stop offset="0.3000" stop-color="#c0c0c0"/><stop offset="0.3067" stop-color="#b9b9b9"/><stop offset="0.3133" stop-color="#b4b4b4"/><stop offset="0.3200" stop-color="#afafaf"/><stop offset="0.3267" stop-color="#acacac"/><stop offset="0.3333" stop-color="#aaaaaa"/><stop offset="0.3400" stop-color="#a9a9a9"/><stop offset="0.3467" stop-color="#aaaaaa"/><stop offset="0.3533" stop-color="#acacac"/><stop offset="0.3600" stop-color="#afafaf"/><stop offset="0.3667" stop-color="#b2b2b2"/><stop offset="0.3733" stop-color="#b6b6b6"/><stop offset="0.3800" stop-color="#bbbbbb"/><stop offset="0.3867" stop-color="#bfbfbf"/><stop offset="0.3933" stop-color="#c3c3c3"/><stop offset="0.4000" stop-color="#c6c6c6"/><stop offset="0.4067" stop-color="#c9c9c9"/><stop offset="0.4133" stop-color="#cacaca"/><stop offset="0.4200" stop-color="#cbcbcb"/><stop offset="0.4267" stop-color="#cbcbcb"/><stop offset="0.4333" stop-color="#cacaca"/><stop offset="0.4400" stop-color="#c9c9c9"/><stop offset="0.4467" stop-color="#c6c6c6"/><stop offset="0.4533" stop-color="#c4c4c4"/><stop offset="0.4600" stop-color="#c1c1c1"/><stop offset="0.4667" stop-color="#bfbfbf"/><stop offset="0.4733" stop-color="#bcbcbc"/><stop offset="0.4800" stop-color="#bababa"/><stop offset="0.4867" stop-color="#b8b8b8"/><stop offset="0.4933" stop-color="#b7b7b7"/><stop offset="0.5000" stop-color="#b6b6b6"/><stop offset="0.5067" stop-color="#b6b6b6"/><stop offset="0.5133" stop-color="#b7b7b7"/><stop offset="0.5200" stop-color="#b8b8b8"/><stop offset="0.5267" stop-color="#b9b9b9"/><stop offset="0.5333" stop-color="#bababa"/><stop offset="0.5400" stop-color="#bbbbbb"/><stop offset="0.5467" stop-color="#bdbdbd"/><stop offset="0.5533" stop-color="#bebebe"/><stop offset="0.5600" stop-color="#c0c0c0"/><stop offset="0.5667" stop-color="#c1c1c1"/><stop offset="0.5733" stop-color="#c1c1c1"/><stop offset="0.5800" stop-color="#c2c2c2"/><stop offset="0.5867" stop-color="#c2c2c2"/><stop offset="0.5933" stop-color="#c2c2c2"/><stop offset="0.6000" stop-color="#c2c2c2"/><stop offset="0.6067" stop-color="#c1c1c1"/><stop offset="0.6133" stop-color="#c0c0c0"/><stop offset="0.6200" stop-color="#c0c0c0"/><stop offset="0.6267" stop-color="#bfbfbf"/><stop offset="0.6333" stop-color="#bebebe"/><stop offset="0.6400" stop-color="#bdbdbd"/><stop offset="0.6467" stop-color="#bdbdbd"/><stop offset="0.6533" stop-color="#bdbdbd"/><stop offset="0.6600" stop-color="#bcbcbc"/><stop offset="0.6667" stop-color="#bcbcbc"/><stop offset="0.6733" stop-color="#bcbcbc"/><stop offset="0.6800" stop-color="#bcbcbc"/><stop offset="0.6867" stop-color="#bcbcbc"/><stop offset="0.6933" stop-color="#bdbdbd"/><stop offset="0.7000" stop-color="#bdbdbd"/><stop offset="0.7067" stop-color="#bdbdbd"/><stop offset="0.7133" stop-color="#bebebe"/><stop offset="0.7200" stop-color="#bebebe"/><stop offset="0.7267" stop-color="#bebebe"/><stop offset="0.7333" stop-color="#bfbfbf"/><stop offset="0.7400" stop-color="#bfbfbf"/><stop offset="0.7467" stop-color="#bfbfbf"/><stop offset="0.7533" stop-color="#bfbfbf"/><stop offset="0.7600" stop-color="#bfbfbf"/><stop offset="0.7667" stop-color="#bfbfbf"/><stop offset="0.7733" stop-color="#bfbfbf"/><stop offset="0.7800" stop-color="#bebebe"/><stop offset="0.7867" stop-color="#bebebe"/><stop offset="0.7933" stop-color="#bebebe"/><stop offset="0.8000" stop-color="#bebebe"/><stop offset="0.8067" stop-color="#bebebe"/><stop offset="0.8133" stop-color="#bebebe"/><stop offset="0.8200" stop-color="#bebebe"/><stop offset="0.8267" stop-color="#bebebe"/><stop offset="0.8333" stop-color="#bebebe"/><stop offset="0.8400" stop-color="#bebebe"/><stop offset="0.8467" stop-color="#bebebe"/><stop offset="0.8533" stop-color="#bebebe"/><stop offset="0.8600" stop-color="#bebebe"/><stop offset="0.8667" stop-color="#bebebe"/><stop offset="0.8733" stop-color="#bebebe"/><stop offset="0.8800" stop-color="#bebebe"/><stop offset="0.8867" stop-color="#bebebe"/><stop offset="0.8933" stop-color="#bebebe"/><stop offset="0.9000" stop-color="#bebebe"/><stop offset="0.9067" stop-color="#bebebe"/><stop offset="0.9133" stop-color="#bebebe"/><stop offset="0.9200" stop-color="#bebebe"/><stop offset="0.9267" stop-color="#bebebe"/><stop offset="0.9333" stop-color="#bebebe"/><stop offset="0.9400" stop-color="#bebebe"/><stop offset="0.9467" stop-color="#bebebe"/><stop offset="0.9533" stop-color="#bebebe"/><stop offset="0.9600" stop-color="#bebebe"/><stop offset="0.9667" stop-color="#bebebe"/><stop offset="0.9733" stop-color="#bebebe"/><stop offset="0.9800" stop-color="#bebebe"/><stop offset="0.9867" stop-color="#bebebe"/><stop offset="0.9933" stop-color="#bebebe"/><stop offset="1.0000" stop-color="#bebebe"/></radialGradient></defs>
<g clip-path="url(#cs11)"><rect x="340.0" y="852.5" width="195.5" height="195.5" fill="url(#rg12)"/>
</g>
<defs><clipPath id="cs13"><rect x="605.5" y="852.5" width="195.5" height="195.5"/></clipPath></defs>
<defs><radialGradient id="rg14" gradientUnits="userSpaceOnUse" cx="706.5" cy="953.0" r="150"><stop offset="0.0000" stop-color="#000000"/><stop offset="0.0067" stop-color="#000000"/><stop offset="0.0133" stop-color="#050505"/><stop offset="0.0200" stop-color="#191919"/><stop offset="0.0267" stop-color="#333333"/><stop offset="0.0333" stop-color="#4f4f4f"/><stop offset="0.0400" stop-color="#6b6b6b"/><stop offset="0.0467" stop-color="#868686"/><stop offset="0.0533" stop-color="#9e9e9e"/><stop offset="0.0600" stop-color="#b3b3b3"/><stop offset="0.0667" stop-color="#c5c5c5"/><stop offset="0.0733" stop-color="#d4d4d4"/><stop offset="0.0800" stop-color="#dfdfdf"/><stop offset="0.0867" stop-color="#e7e7e7"/><stop offset="0.0933" stop-color="#ececec"/><stop offset="0.1000" stop-color="#ededed"/><stop offset="0.1067" stop-color="#ebebeb"/><stop offset="0.1133" stop-color="#e6e6e6"/><stop offset="0.1200" stop-color="#e0e0e0"/><stop offset="0.1267" stop-color="#d8d8d8"/><stop offset="0.1333" stop-color="#d1d1d1"/><stop offset="0.1400" stop-color="#cacaca"/><stop offset="0.1467" stop-color="#c4c4c4"/><stop offset="0.1533" stop-color="#c0c0c0"/><stop offset="0.1600" stop-color="#bcbcbc"/><stop offset="0.1667" stop-color="#b9b9b9"/><stop offset="0.1733" stop-color="#b8b8b8"/><stop offset="0.1800" stop-color="#b7b7b7"/><stop offset="0.1867" stop-color="#b7b7b7"/><stop offset="0.1933" stop-color="#b7b7b7"/><stop offset="0.2000" stop-color="#b8b8b8"/><stop offset="0.2067" stop-color="#b8b8b8"/><stop offset="0.2133" stop-color="#bababa"/><stop offset="0.2200" stop-color="#bebebe"/><stop offset="0.2267" stop-color="#c3c3c3"/><stop offset="0.2333" stop-color="#c9c9c9"/><stop offset="0.2400" stop-color="#cdcdcd"/><stop offset="0.2467" stop-color="#cfcfcf"/><stop offset="0.2533" stop-color="#d0d0d0"/><stop offset="0.2600" stop-color="#cfcfcf"/><stop offset="0.2667" stop-color="#cdcdcd"/><stop offset="0.2733" stop-color="#cacaca"/><stop offset="0.2800" stop-color="#c6c6c6"/><stop offset="0.2867" stop-color="#c2c2c2"/><stop offset="0.2933" stop-color="#bdbdbd"/><stop offset="0.3000" stop-color="#b9b9b9"/><stop offset="0.3067" stop-color="#b5b5b5"/><stop offset="0.3133" stop-color="#b1b1b1"/><stop offset="0.3200" stop-color="#afafaf"/><stop offset="0.3267" stop-color="#adadad"/><stop offset="0.3333" stop-color="#adadad"/><stop offset="0.3400" stop-color="#aeaeae"/><stop offset="0.3467" stop-color="#b0b0b0"/><stop offset="0.3533" stop-color="#b3b3b3"/><stop offset="0.3600" stop-color="#b7b7b7"/><stop offset="0.3667" stop-color="#bbbbbb"/><stop offset="0.3733" stop-color="#c0c0c0"/><stop offset="0.3800" stop-color="#c4c4c4"/><stop offset="0.3867" stop-color="#c7c7c7"/><stop offset="0.3933" stop-color="#cacaca"/><stop offset="0.4000" stop-color="#cccccc"/><stop offset="0.4067" stop-color="#cccccc"/><stop offset="0.4133" stop-color="#cccccc"/><stop offset="0.4200" stop-color="#cbcbcb"/><stop offset="0.4267" stop-color="#c9c9c9"/><stop offset="0.4333" stop-color="#c6c6c6"/><stop offset="0.4400" stop-color="#c3c3c3"/><stop offset="0.4467" stop-color="#bfbfbf"/><stop offset="0.4533" stop-color="#bcbcbc"/><stop offset="0.4600" stop-color="#b9b9b9"/><stop offset="0.4667" stop-color="#b6b6b6"/><stop offset="0.4733" stop-color="#b4b4b4"/><stop offset="0.4800" stop-color="#b3b3b3"/><stop offset="0.4867" stop-color="#b3b3b3"/><stop offset="0.4933" stop-color="#b4b4b4"/><stop offset="0.5000" stop-color="#b5b5b5"/><stop offset="0.5067" stop-color="#b7b7b7"/><stop offset="0.5133" stop-color="#b9b9b9"/><stop offset="0.5200" stop-color="#bbbbbb"/><stop offset="0.5267" stop-color="#bebebe"/><stop offset="0.5333" stop-color="#c0c0c0"/><stop offset="0.5400" stop-color="#c2c2c2"/><stop offset="0.5467" stop-color="#c4c4c4"/><stop offset="0.5533" stop-color="#c5c5c5"/><stop offset="0.5600" stop-color="#c5c5c5"/><stop offset="0.5667" stop-color="#c5c5c5"/><stop offset="0.5733" stop-color="#c5c5c5"/><stop offset="0.5800" stop-color="#c4c4c4"/><stop offset="0.5867" stop-color="#c3c3c3"/><stop offset="0.5933" stop-color="#c1c1c1"/><stop offset="0.6000" stop-color="#bfbfbf"/><stop offset="0.6067" stop-color="#bebebe"/><stop offset="0.6133" stop-color="#bcbcbc"/><stop offset="0.6200" stop-color="#bbbbbb"/><stop offset="0.6267" stop-color="#bababa"/><stop offset="0.6333" stop-color="#bababa"/><stop offset="0.6400" stop-color="#b9b9b9"/><stop offset="0.6467" stop-color="#bababa"/><stop offset="0.6533" stop-color="#bababa"/><stop offset="0.6600" stop-color="#bbbbbb"/><stop offset="0.6667" stop-color="#bbbbbb"/><stop offset="0.6733" stop-color="#bcbcbc"/><stop offset="0.6800" stop-color="#bdbdbd"/><stop offset="0.6867" stop-color="#bebebe"/><stop offset="0.6933" stop-color="#bfbfbf"/><stop offset="0.7000" stop-color="#c0c0c0"/><stop offset="0.7067" stop-color="#c0c0c0"/><stop offset="0.7133" stop-color="#c0c0c0"/><stop offset="0.7200" stop-color="#c0c0c0"/><stop offset="0.7267" stop-color="#c0c0c0"/><stop offset="0.7333" stop-color="#c0c0c0"/><stop offset="0.7400" stop-color="#c0c0c0"/><stop offset="0.7467" stop-color="#bfbfbf"/><stop offset="0.7533" stop-color="#bfbfbf"/><stop offset="0.7600" stop-color="#bebebe"/><stop offset="0.7667" stop-color="#bebebe"/><stop offset="0.7733" stop-color="#bdbdbd"/><stop offset="0.7800" stop-color="#bdbdbd"/><stop offset="0.7867" stop-color="#bdbdbd"/><stop offset="0.7933" stop-color="#bdbdbd"/><stop offset="0.8000" stop-color="#bdbdbd"/><stop offset="0.8067" stop-color="#bdbdbd"/><stop offset="0.8133" stop-color="#bdbdbd"/><stop offset="0.8200" stop-color="#bdbdbd"/><stop offset="0.8267" stop-color="#bdbdbd"/><stop offset="0.8333" stop-color="#bebebe"/><stop offset="0.8400" stop-color="#bebebe"/><stop offset="0.8467" stop-color="#bebebe"/><stop offset="0.8533" stop-color="#bebebe"/><stop offset="0.8600" stop-color="#bebebe"/><stop offset="0.8667" stop-color="#bebebe"/><stop offset="0.8733" stop-color="#bfbfbf"/><stop offset="0.8800" stop-color="#bebebe"/><stop offset="0.8867" stop-color="#bebebe"/><stop offset="0.8933" stop-color="#bebebe"/><stop offset="0.9000" stop-color="#bebebe"/><stop offset="0.9067" stop-color="#bebebe"/><stop offset="0.9133" stop-color="#bebebe"/><stop offset="0.9200" stop-color="#bebebe"/><stop offset="0.9267" stop-color="#bebebe"/><stop offset="0.9333" stop-color="#bebebe"/><stop offset="0.9400" stop-color="#bebebe"/><stop offset="0.9467" stop-color="#bebebe"/><stop offset="0.9533" stop-color="#bebebe"/><stop offset="0.9600" stop-color="#bebebe"/><stop offset="0.9667" stop-color="#bebebe"/><stop offset="0.9733" stop-color="#bebebe"/><stop offset="0.9800" stop-color="#bebebe"/><stop offset="0.9867" stop-color="#bebebe"/><stop offset="0.9933" stop-color="#bebebe"/><stop offset="1.0000" stop-color="#bebebe"/></radialGradient></defs>
<g clip-path="url(#cs13)"><rect x="605.5" y="852.5" width="195.5" height="195.5" fill="url(#rg14)"/>
<circle cx="734.0" cy="951.6" r="12" fill="url(#spotg)" opacity="0.36"/>
<circle cx="721.5" cy="976.1" r="12" fill="url(#spotg)" opacity="0.36"/>
<circle cx="694.0" cy="977.5" r="12" fill="url(#spotg)" opacity="0.36"/>
<circle cx="679.0" cy="954.4" r="12" fill="url(#spotg)" opacity="0.36"/>
<circle cx="691.5" cy="929.9" r="12" fill="url(#spotg)" opacity="0.36"/>
<circle cx="719.0" cy="928.5" r="12" fill="url(#spotg)" opacity="0.36"/>
</g>
<defs><clipPath id="cs15"><rect x="871.0" y="852.5" width="195.5" height="195.5"/></clipPath></defs>
<g clip-path="url(#cs15)"><rect x="871.0" y="852.5" width="195.5" height="195.5" fill="#bebebe"/>
<polygon points="1108.3,945.4 1046.6,1066.6 910.8,1073.7 836.7,959.6 898.4,838.4 1034.2,831.3" fill="none" stroke="#c1c1c1" stroke-width="11" stroke-linejoin="round" filter="url(#blur6)"/>
<polygon points="1096.3,946.0 1040.0,1056.5 916.2,1063.0 848.7,959.0 905.0,848.5 1028.8,842.0" fill="none" stroke="#bbbbbb" stroke-width="11" stroke-linejoin="round" filter="url(#blur6)"/>
<polygon points="1083.3,946.7 1033.0,1045.6 922.1,1051.4 861.7,958.3 912.0,859.4 1022.9,853.6" fill="none" stroke="#c6c6c6" stroke-width="11" stroke-linejoin="round" filter="url(#blur6)"/>
<polygon points="1070.4,947.4 1025.9,1034.7 928.0,1039.8 874.6,957.6 919.1,870.3 1017.0,865.2" fill="none" stroke="#b6b6b6" stroke-width="11" stroke-linejoin="round" filter="url(#blur6)"/>
<polygon points="1058.4,948.0 1019.3,1024.6 933.5,1029.1 886.6,957.0 925.7,880.4 1011.5,875.9" fill="none" stroke="#cdcdcd" stroke-width="11" stroke-linejoin="round" filter="url(#blur6)"/>
<polygon points="1047.4,948.6 1013.3,1015.4 938.5,1019.3 897.6,956.4 931.7,889.6 1006.5,885.7" fill="none" stroke="#a8a8a8" stroke-width="11" stroke-linejoin="round" filter="url(#blur6)"/>
<polygon points="1035.4,949.2 1006.8,1005.3 943.9,1008.6 909.6,955.8 938.2,899.7 1001.1,896.4" fill="#dadada" stroke="#dadada" stroke-width="8" stroke-linejoin="round" filter="url(#blur4)"/>
<polygon points="1032.4,949.4 1005.2,1002.8 945.3,1006.0 912.6,955.6 939.8,902.2 999.7,899.0" fill="#fcfcfc" filter="url(#blur6)"/>
<circle cx="916.0" cy="955.5" r="14" fill="url(#dotg)" opacity="0.48"/>
<circle cx="916.0" cy="955.5" r="5" fill="#5b8f5b" opacity="0.29" filter="url(#blur2)"/>
<circle cx="928.8" cy="930.2" r="14" fill="url(#dotg)" opacity="0.48"/>
<circle cx="928.8" cy="930.2" r="5" fill="#5b8f5b" opacity="0.29" filter="url(#blur2)"/>
<circle cx="941.7" cy="905.0" r="14" fill="url(#dotg)" opacity="0.48"/>
<circle cx="941.7" cy="905.0" r="5" fill="#5b8f5b" opacity="0.29" filter="url(#blur2)"/>
<circle cx="931.4" cy="979.2" r="14" fill="url(#dotg)" opacity="0.48"/>
<circle cx="931.4" cy="979.2" r="5" fill="#5b8f5b" opacity="0.29" filter="url(#blur2)"/>
<circle cx="944.2" cy="954.0" r="14" fill="url(#dotg)" opacity="1.00"/>
<circle cx="944.2" cy="954.0" r="9" fill="none" stroke="#c47ccc" stroke-width="2.2" opacity="0.5" filter="url(#blur2)"/>
<circle cx="957.1" cy="928.8" r="14" fill="url(#dotg)" opacity="1.00"/>
<circle cx="957.1" cy="928.8" r="9" fill="none" stroke="#c47ccc" stroke-width="2.2" opacity="0.5" filter="url(#blur2)"/>
<circle cx="969.9" cy="903.6" r="14" fill="url(#dotg)" opacity="0.48"/>
<circle cx="969.9" cy="903.6" r="5" fill="#5b8f5b" opacity="0.29" filter="url(#blur2)"/>
<circle cx="946.8" cy="1002.9" r="14" fill="url(#dotg)" opacity="0.48"/>
<circle cx="946.8" cy="1002.9" r="5" fill="#5b8f5b" opacity="0.29" filter="url(#blur2)"/>
<circle cx="959.7" cy="977.7" r="14" fill="url(#dotg)" opacity="1.00"/>
<circle cx="959.7" cy="977.7" r="9" fill="none" stroke="#c47ccc" stroke-width="2.2" opacity="0.5" filter="url(#blur2)"/>
<circle cx="972.5" cy="952.5" r="14" fill="url(#dotg)" opacity="1.00"/>
<circle cx="972.5" cy="952.5" r="9" fill="none" stroke="#c47ccc" stroke-width="2.2" opacity="0.5" filter="url(#blur2)"/>
<circle cx="985.3" cy="927.3" r="14" fill="url(#dotg)" opacity="1.00"/>
<circle cx="985.3" cy="927.3" r="9" fill="none" stroke="#c47ccc" stroke-width="2.2" opacity="0.5" filter="url(#blur2)"/>
<circle cx="998.2" cy="902.1" r="14" fill="url(#dotg)" opacity="0.48"/>
<circle cx="998.2" cy="902.1" r="5" fill="#5b8f5b" opacity="0.29" filter="url(#blur2)"/>
<circle cx="975.1" cy="1001.4" r="14" fill="url(#dotg)" opacity="0.48"/>
<circle cx="975.1" cy="1001.4" r="5" fill="#5b8f5b" opacity="0.29" filter="url(#blur2)"/>
<circle cx="987.9" cy="976.2" r="14" fill="url(#dotg)" opacity="1.00"/>
<circle cx="987.9" cy="976.2" r="9" fill="none" stroke="#c47ccc" stroke-width="2.2" opacity="0.5" filter="url(#blur2)"/>
<circle cx="1000.8" cy="951.0" r="14" fill="url(#dotg)" opacity="1.00"/>
<circle cx="1000.8" cy="951.0" r="9" fill="none" stroke="#c47ccc" stroke-width="2.2" opacity="0.5" filter="url(#blur2)"/>
<circle cx="1013.6" cy="925.8" r="14" fill="url(#dotg)" opacity="0.48"/>
<circle cx="1013.6" cy="925.8" r="5" fill="#5b8f5b" opacity="0.29" filter="url(#blur2)"/>
<circle cx="1003.3" cy="1000.0" r="14" fill="url(#dotg)" opacity="0.48"/>
<circle cx="1003.3" cy="1000.0" r="5" fill="#5b8f5b" opacity="0.29" filter="url(#blur2)"/>
<circle cx="1016.2" cy="974.8" r="14" fill="url(#dotg)" opacity="0.48"/>
<circle cx="1016.2" cy="974.8" r="5" fill="#5b8f5b" opacity="0.29" filter="url(#blur2)"/>
<circle cx="1029.0" cy="949.5" r="14" fill="url(#dotg)" opacity="0.48"/>
<circle cx="1029.0" cy="949.5" r="5" fill="#5b8f5b" opacity="0.29" filter="url(#blur2)"/>
</g>
<defs><clipPath id="cs16"><rect x="1137.0" y="852.5" width="195.5" height="195.5"/></clipPath></defs>
<g clip-path="url(#cs16)"><rect x="1137.0" y="852.5" width="195.5" height="195.5" fill="#c8c8c8"/>
<circle cx="1238.5" cy="952.5" r="118" fill="#dadcda" filter="url(#blur6)"/>
<circle cx="1238.5" cy="952.5" r="98" fill="#f8f8f8" filter="url(#blur6)"/>
<circle cx="1135.7" cy="884.3" r="14" fill="url(#dotg)" opacity="0.40"/>
<circle cx="1135.7" cy="884.3" r="5" fill="#5b8f5b" opacity="0.24" filter="url(#blur2)"/>
<circle cx="1148.6" cy="859.0" r="14" fill="url(#dotg)" opacity="0.40"/>
<circle cx="1148.6" cy="859.0" r="5" fill="#5b8f5b" opacity="0.24" filter="url(#blur2)"/>
<circle cx="1125.5" cy="958.4" r="14" fill="url(#dotg)" opacity="0.40"/>
<circle cx="1125.5" cy="958.4" r="5" fill="#5b8f5b" opacity="0.24" filter="url(#blur2)"/>
<circle cx="1138.3" cy="933.2" r="14" fill="url(#dotg)" opacity="0.38"/>
<circle cx="1138.3" cy="933.2" r="5" fill="#5b8f5b" opacity="0.23" filter="url(#blur2)"/>
<circle cx="1151.2" cy="908.0" r="14" fill="url(#dotg)" opacity="0.38"/>
<circle cx="1151.2" cy="908.0" r="5" fill="#5b8f5b" opacity="0.23" filter="url(#blur2)"/>
<circle cx="1164.0" cy="882.8" r="14" fill="url(#dotg)" opacity="0.38"/>
<circle cx="1164.0" cy="882.8" r="5" fill="#5b8f5b" opacity="0.23" filter="url(#blur2)"/>
<circle cx="1176.8" cy="857.6" r="14" fill="url(#dotg)" opacity="0.40"/>
<circle cx="1176.8" cy="857.6" r="5" fill="#5b8f5b" opacity="0.24" filter="url(#blur2)"/>
<circle cx="1128.0" cy="1007.4" r="14" fill="url(#dotg)" opacity="0.40"/>
<circle cx="1128.0" cy="1007.4" r="5" fill="#5b8f5b" opacity="0.24" filter="url(#blur2)"/>
<circle cx="1140.9" cy="982.2" r="14" fill="url(#dotg)" opacity="0.38"/>
<circle cx="1140.9" cy="982.2" r="5" fill="#5b8f5b" opacity="0.23" filter="url(#blur2)"/>
<circle cx="1153.7" cy="956.9" r="14" fill="url(#dotg)" opacity="0.72"/>
<circle cx="1153.7" cy="956.9" r="5" fill="#5b8f5b" opacity="0.38" filter="url(#blur2)"/>
<circle cx="1166.6" cy="931.7" r="14" fill="url(#dotg)" opacity="1.00"/>
<circle cx="1166.6" cy="931.7" r="9" fill="none" stroke="#c47ccc" stroke-width="2.2" opacity="0.5" filter="url(#blur2)"/>
<circle cx="1179.4" cy="906.5" r="14" fill="url(#dotg)" opacity="1.00"/>
<circle cx="1179.4" cy="906.5" r="9" fill="none" stroke="#c47ccc" stroke-width="2.2" opacity="0.5" filter="url(#blur2)"/>
<circle cx="1192.3" cy="881.3" r="14" fill="url(#dotg)" opacity="0.72"/>
<circle cx="1192.3" cy="881.3" r="5" fill="#5b8f5b" opacity="0.38" filter="url(#blur2)"/>
<circle cx="1205.1" cy="856.1" r="14" fill="url(#dotg)" opacity="0.38"/>
<circle cx="1205.1" cy="856.1" r="5" fill="#5b8f5b" opacity="0.23" filter="url(#blur2)"/>
<circle cx="1130.6" cy="1056.3" r="14" fill="url(#dotg)" opacity="0.40"/>
<circle cx="1130.6" cy="1056.3" r="5" fill="#5b8f5b" opacity="0.24" filter="url(#blur2)"/>
<circle cx="1143.4" cy="1031.1" r="14" fill="url(#dotg)" opacity="0.40"/>
<circle cx="1143.4" cy="1031.1" r="5" fill="#5b8f5b" opacity="0.24" filter="url(#blur2)"/>
<circle cx="1156.3" cy="1005.9" r="14" fill="url(#dotg)" opacity="0.38"/>
<circle cx="1156.3" cy="1005.9" r="5" fill="#5b8f5b" opacity="0.23" filter="url(#blur2)"/>
<circle cx="1169.1" cy="980.7" r="14" fill="url(#dotg)" opacity="1.00"/>
<circle cx="1169.1" cy="980.7" r="9" fill="none" stroke="#c47ccc" stroke-width="2.2" opacity="0.5" filter="url(#blur2)"/>
<circle cx="1182.0" cy="955.5" r="14" fill="url(#dotg)" opacity="1.00"/>
<circle cx="1182.0" cy="955.5" r="9" fill="none" stroke="#c47ccc" stroke-width="2.2" opacity="0.5" filter="url(#blur2)"/>
<circle cx="1194.8" cy="930.2" r="14" fill="url(#dotg)" opacity="1.00"/>
<circle cx="1194.8" cy="930.2" r="9" fill="none" stroke="#c47ccc" stroke-width="2.2" opacity="0.5" filter="url(#blur2)"/>
<circle cx="1207.7" cy="905.0" r="14" fill="url(#dotg)" opacity="1.00"/>
<circle cx="1207.7" cy="905.0" r="9" fill="none" stroke="#c47ccc" stroke-width="2.2" opacity="0.5" filter="url(#blur2)"/>
<circle cx="1220.5" cy="879.8" r="14" fill="url(#dotg)" opacity="1.00"/>
<circle cx="1220.5" cy="879.8" r="9" fill="none" stroke="#c47ccc" stroke-width="2.2" opacity="0.5" filter="url(#blur2)"/>
<circle cx="1233.4" cy="854.6" r="14" fill="url(#dotg)" opacity="0.38"/>
<circle cx="1233.4" cy="854.6" r="5" fill="#5b8f5b" opacity="0.23" filter="url(#blur2)"/>
<circle cx="1158.8" cy="1054.8" r="14" fill="url(#dotg)" opacity="0.40"/>
<circle cx="1158.8" cy="1054.8" r="5" fill="#5b8f5b" opacity="0.24" filter="url(#blur2)"/>
<circle cx="1171.7" cy="1029.6" r="14" fill="url(#dotg)" opacity="0.38"/>
<circle cx="1171.7" cy="1029.6" r="5" fill="#5b8f5b" opacity="0.23" filter="url(#blur2)"/>
<circle cx="1184.5" cy="1004.4" r="14" fill="url(#dotg)" opacity="1.00"/>
<circle cx="1184.5" cy="1004.4" r="9" fill="none" stroke="#c47ccc" stroke-width="2.2" opacity="0.5" filter="url(#blur2)"/>
<circle cx="1197.4" cy="979.2" r="14" fill="url(#dotg)" opacity="1.00"/>
<circle cx="1197.4" cy="979.2" r="9" fill="none" stroke="#c47ccc" stroke-width="2.2" opacity="0.5" filter="url(#blur2)"/>
<circle cx="1210.2" cy="954.0" r="14" fill="url(#dotg)" opacity="1.00"/>
<circle cx="1210.2" cy="954.0" r="9" fill="none" stroke="#c47ccc" stroke-width="2.2" opacity="0.5" filter="url(#blur2)"/>
<circle cx="1223.1" cy="928.8" r="14" fill="url(#dotg)" opacity="1.00"/>
<circle cx="1223.1" cy="928.8" r="9" fill="none" stroke="#c47ccc" stroke-width="2.2" opacity="0.5" filter="url(#blur2)"/>
<circle cx="1235.9" cy="903.6" r="14" fill="url(#dotg)" opacity="1.00"/>
<circle cx="1235.9" cy="903.6" r="9" fill="none" stroke="#c47ccc" stroke-width="2.2" opacity="0.5" filter="url(#blur2)"/>
<circle cx="1248.8" cy="878.3" r="14" fill="url(#dotg)" opacity="1.00"/>
<circle cx="1248.8" cy="878.3" r="9" fill="none" stroke="#c47ccc" stroke-width="2.2" opacity="0.5" filter="url(#blur2)"/>
<circle cx="1261.6" cy="853.1" r="14" fill="url(#dotg)" opacity="0.38"/>
<circle cx="1261.6" cy="853.1" r="5" fill="#5b8f5b" opacity="0.23" filter="url(#blur2)"/>
<circle cx="1187.1" cy="1053.4" r="14" fill="url(#dotg)" opacity="0.40"/>
<circle cx="1187.1" cy="1053.4" r="5" fill="#5b8f5b" opacity="0.24" filter="url(#blur2)"/>
<circle cx="1200.0" cy="1028.1" r="14" fill="url(#dotg)" opacity="0.72"/>
<circle cx="1200.0" cy="1028.1" r="5" fill="#5b8f5b" opacity="0.38" filter="url(#blur2)"/>
<circle cx="1212.8" cy="1002.9" r="14" fill="url(#dotg)" opacity="1.00"/>
<circle cx="1212.8" cy="1002.9" r="9" fill="none" stroke="#c47ccc" stroke-width="2.2" opacity="0.5" filter="url(#blur2)"/>
<circle cx="1225.7" cy="977.7" r="14" fill="url(#dotg)" opacity="1.00"/>
<circle cx="1225.7" cy="977.7" r="9" fill="none" stroke="#c47ccc" stroke-width="2.2" opacity="0.5" filter="url(#blur2)"/>
<circle cx="1238.5" cy="952.5" r="14" fill="url(#dotg)" opacity="1.00"/>
<circle cx="1238.5" cy="952.5" r="9" fill="none" stroke="#c47ccc" stroke-width="2.2" opacity="0.5" filter="url(#blur2)"/>
<circle cx="1251.3" cy="927.3" r="14" fill="url(#dotg)" opacity="1.00"/>
<circle cx="1251.3" cy="927.3" r="9" fill="none" stroke="#c47ccc" stroke-width="2.2" opacity="0.5" filter="url(#blur2)"/>
<circle cx="1264.2" cy="902.1" r="14" fill="url(#dotg)" opacity="1.00"/>
<circle cx="1264.2" cy="902.1" r="9" fill="none" stroke="#c47ccc" stroke-width="2.2" opacity="0.5" filter="url(#blur2)"/>
<circle cx="1277.0" cy="876.9" r="14" fill="url(#dotg)" opacity="0.72"/>
<circle cx="1277.0" cy="876.9" r="5" fill="#5b8f5b" opacity="0.38" filter="url(#blur2)"/>
<circle cx="1289.9" cy="851.6" r="14" fill="url(#dotg)" opacity="0.40"/>
<circle cx="1289.9" cy="851.6" r="5" fill="#5b8f5b" opacity="0.24" filter="url(#blur2)"/>
<circle cx="1215.4" cy="1051.9" r="14" fill="url(#dotg)" opacity="0.38"/>
<circle cx="1215.4" cy="1051.9" r="5" fill="#5b8f5b" opacity="0.23" filter="url(#blur2)"/>
<circle cx="1228.2" cy="1026.7" r="14" fill="url(#dotg)" opacity="1.00"/>
<circle cx="1228.2" cy="1026.7" r="9" fill="none" stroke="#c47ccc" stroke-width="2.2" opacity="0.5" filter="url(#blur2)"/>
<circle cx="1241.1" cy="1001.4" r="14" fill="url(#dotg)" opacity="1.00"/>
<circle cx="1241.1" cy="1001.4" r="9" fill="none" stroke="#c47ccc" stroke-width="2.2" opacity="0.5" filter="url(#blur2)"/>
<circle cx="1253.9" cy="976.2" r="14" fill="url(#dotg)" opacity="1.00"/>
<circle cx="1253.9" cy="976.2" r="9" fill="none" stroke="#c47ccc" stroke-width="2.2" opacity="0.5" filter="url(#blur2)"/>
<circle cx="1266.8" cy="951.0" r="14" fill="url(#dotg)" opacity="1.00"/>
<circle cx="1266.8" cy="951.0" r="9" fill="none" stroke="#c47ccc" stroke-width="2.2" opacity="0.5" filter="url(#blur2)"/>
<circle cx="1279.6" cy="925.8" r="14" fill="url(#dotg)" opacity="1.00"/>
<circle cx="1279.6" cy="925.8" r="9" fill="none" stroke="#c47ccc" stroke-width="2.2" opacity="0.5" filter="url(#blur2)"/>
<circle cx="1292.5" cy="900.6" r="14" fill="url(#dotg)" opacity="1.00"/>
<circle cx="1292.5" cy="900.6" r="9" fill="none" stroke="#c47ccc" stroke-width="2.2" opacity="0.5" filter="url(#blur2)"/>
<circle cx="1305.3" cy="875.4" r="14" fill="url(#dotg)" opacity="0.38"/>
<circle cx="1305.3" cy="875.4" r="5" fill="#5b8f5b" opacity="0.23" filter="url(#blur2)"/>
<circle cx="1318.2" cy="850.2" r="14" fill="url(#dotg)" opacity="0.40"/>
<circle cx="1318.2" cy="850.2" r="5" fill="#5b8f5b" opacity="0.24" filter="url(#blur2)"/>
<circle cx="1243.6" cy="1050.4" r="14" fill="url(#dotg)" opacity="0.38"/>
<circle cx="1243.6" cy="1050.4" r="5" fill="#5b8f5b" opacity="0.23" filter="url(#blur2)"/>
<circle cx="1256.5" cy="1025.2" r="14" fill="url(#dotg)" opacity="1.00"/>
<circle cx="1256.5" cy="1025.2" r="9" fill="none" stroke="#c47ccc" stroke-width="2.2" opacity="0.5" filter="url(#blur2)"/>
<circle cx="1269.3" cy="1000.0" r="14" fill="url(#dotg)" opacity="1.00"/>
<circle cx="1269.3" cy="1000.0" r="9" fill="none" stroke="#c47ccc" stroke-width="2.2" opacity="0.5" filter="url(#blur2)"/>
<circle cx="1282.2" cy="974.8" r="14" fill="url(#dotg)" opacity="1.00"/>
<circle cx="1282.2" cy="974.8" r="9" fill="none" stroke="#c47ccc" stroke-width="2.2" opacity="0.5" filter="url(#blur2)"/>
<circle cx="1295.0" cy="949.5" r="14" fill="url(#dotg)" opacity="1.00"/>
<circle cx="1295.0" cy="949.5" r="9" fill="none" stroke="#c47ccc" stroke-width="2.2" opacity="0.5" filter="url(#blur2)"/>
<circle cx="1307.9" cy="924.3" r="14" fill="url(#dotg)" opacity="1.00"/>
<circle cx="1307.9" cy="924.3" r="9" fill="none" stroke="#c47ccc" stroke-width="2.2" opacity="0.5" filter="url(#blur2)"/>
<circle cx="1320.7" cy="899.1" r="14" fill="url(#dotg)" opacity="0.38"/>
<circle cx="1320.7" cy="899.1" r="5" fill="#5b8f5b" opacity="0.23" filter="url(#blur2)"/>
<circle cx="1333.6" cy="873.9" r="14" fill="url(#dotg)" opacity="0.40"/>
<circle cx="1333.6" cy="873.9" r="5" fill="#5b8f5b" opacity="0.24" filter="url(#blur2)"/>
<circle cx="1346.4" cy="848.7" r="14" fill="url(#dotg)" opacity="0.40"/>
<circle cx="1346.4" cy="848.7" r="5" fill="#5b8f5b" opacity="0.24" filter="url(#blur2)"/>
<circle cx="1271.9" cy="1048.9" r="14" fill="url(#dotg)" opacity="0.38"/>
<circle cx="1271.9" cy="1048.9" r="5" fill="#5b8f5b" opacity="0.23" filter="url(#blur2)"/>
<circle cx="1284.7" cy="1023.7" r="14" fill="url(#dotg)" opacity="0.72"/>
<circle cx="1284.7" cy="1023.7" r="5" fill="#5b8f5b" opacity="0.38" filter="url(#blur2)"/>
<circle cx="1297.6" cy="998.5" r="14" fill="url(#dotg)" opacity="1.00"/>
<circle cx="1297.6" cy="998.5" r="9" fill="none" stroke="#c47ccc" stroke-width="2.2" opacity="0.5" filter="url(#blur2)"/>
<circle cx="1310.4" cy="973.3" r="14" fill="url(#dotg)" opacity="1.00"/>
<circle cx="1310.4" cy="973.3" r="9" fill="none" stroke="#c47ccc" stroke-width="2.2" opacity="0.5" filter="url(#blur2)"/>
<circle cx="1323.3" cy="948.1" r="14" fill="url(#dotg)" opacity="0.72"/>
<circle cx="1323.3" cy="948.1" r="5" fill="#5b8f5b" opacity="0.38" filter="url(#blur2)"/>
<circle cx="1336.1" cy="922.8" r="14" fill="url(#dotg)" opacity="0.38"/>
<circle cx="1336.1" cy="922.8" r="5" fill="#5b8f5b" opacity="0.23" filter="url(#blur2)"/>
<circle cx="1300.2" cy="1047.4" r="14" fill="url(#dotg)" opacity="0.40"/>
<circle cx="1300.2" cy="1047.4" r="5" fill="#5b8f5b" opacity="0.24" filter="url(#blur2)"/>
<circle cx="1313.0" cy="1022.2" r="14" fill="url(#dotg)" opacity="0.38"/>
<circle cx="1313.0" cy="1022.2" r="5" fill="#5b8f5b" opacity="0.23" filter="url(#blur2)"/>
<circle cx="1325.8" cy="997.0" r="14" fill="url(#dotg)" opacity="0.38"/>
<circle cx="1325.8" cy="997.0" r="5" fill="#5b8f5b" opacity="0.23" filter="url(#blur2)"/>
<circle cx="1338.7" cy="971.8" r="14" fill="url(#dotg)" opacity="0.38"/>
<circle cx="1338.7" cy="971.8" r="5" fill="#5b8f5b" opacity="0.23" filter="url(#blur2)"/>
<circle cx="1328.4" cy="1046.0" r="14" fill="url(#dotg)" opacity="0.40"/>
<circle cx="1328.4" cy="1046.0" r="5" fill="#5b8f5b" opacity="0.24" filter="url(#blur2)"/>
<circle cx="1341.3" cy="1020.7" r="14" fill="url(#dotg)" opacity="0.40"/>
<circle cx="1341.3" cy="1020.7" r="5" fill="#5b8f5b" opacity="0.24" filter="url(#blur2)"/>
</g>
<defs><clipPath id="cb0"><rect x="75.0" y="457.5" width="195.0" height="195.0"/></clipPath></defs>
<g fill="none" stroke-width="3">
<path d="M75.0 457.5H270.0 M75.0 652.5H270.0" stroke="#ababab"/>
<path d="M75.0 456.0V654.0" stroke="#9dc3de" stroke-width="2.6"/>
<path d="M270.0 456.0V654.0" stroke="#dfbfae" stroke-width="2.6"/>
<path d="M107.5 458.5v3M107.5 651.5v-3M188.8 458.5v3M188.8 651.5v-3M270.0 458.5v3M270.0 651.5v-3" stroke="#888" stroke-width="1.5"/>
</g>
<g clip-path="url(#cb0)" fill="none" stroke-width="6.5" stroke-linecap="butt" stroke-linejoin="round">
<path d="M146.6 533.8C150.4 529.8 162.2 517.9 169.4 509.9C176.6 501.9 182.4 494.7 189.8 485.9C197.2 477.1 209.2 462.8 213.7 457.2C218.2 451.6 216.4 452.9 217.0 452.0" stroke="#c95a25" stroke-dasharray="22 5 7 5"/>
<path d="M74.8 608.0C77.0 604.6 82.8 594.5 88.0 587.5C93.2 580.5 98.9 573.5 105.9 566.0C112.9 558.5 121.9 549.8 129.9 542.2C137.9 534.7 145.8 528.1 153.8 520.7C161.8 513.3 170.8 505.1 177.8 497.9C184.8 490.7 190.3 484.1 195.7 477.5C201.1 470.9 207.0 462.5 210.1 458.4C213.2 454.3 213.3 453.9 214.0 453.0" stroke="#c95a25"/>
<path d="M107.5 590.6 L109.1 589.6 L110.8 588.5 L112.4 587.3 L114.0 586.0 L115.6 584.7 L117.2 583.3 L118.9 581.9 L120.5 580.4 L122.1 578.8 L123.8 577.2 L125.4 575.4 L127.0 573.7 L128.6 571.9 L130.2 570.0 L131.9 568.0 L133.5 566.0 L135.1 564.0 L136.8 561.9 L138.4 559.8 L140.0 557.6 L141.6 555.4 L143.2 553.2 L144.9 551.0 L146.5 548.7 L148.1 546.5 L149.8 544.2 L151.4 542.0 L153.0 539.8 L154.6 537.6 L156.2 535.4 L157.9 533.3 L159.5 531.2 L161.1 529.2 L162.8 527.2 L164.4 525.3 L166.0 523.5 L167.6 521.8 L169.2 520.2 L170.9 518.6 L172.5 517.2 L174.1 515.9 L175.8 514.7 L177.4 513.7 L179.0 512.8 L180.6 512.0 L182.2 511.3 L183.9 510.8 L185.5 510.4 L187.1 510.2 L188.8 510.1 L190.4 510.2 L192.0 510.4 L193.6 510.8 L195.2 511.3 L196.9 512.0 L198.5 512.8 L200.1 513.7 L201.8 514.7 L203.4 515.9 L205.0 517.2 L206.6 518.6 L208.3 520.2 L209.9 521.8 L211.5 523.5 L213.1 525.3 L214.8 527.2 L216.4 529.2 L218.0 531.2 L219.6 533.3 L221.2 535.4 L222.9 537.6 L224.5 539.8 L226.1 542.0 L227.8 544.2 L229.4 546.5 L231.0 548.7 L232.6 551.0 L234.2 553.2 L235.9 555.4 L237.5 557.6 L239.1 559.8 L240.8 561.9 L242.4 564.0 L244.0 566.0 L245.6 568.0 L247.3 570.0 L248.9 571.9 L250.5 573.7 L252.1 575.4 L253.8 577.2 L255.4 578.8 L257.0 580.4 L258.6 581.9 L260.2 583.3 L261.9 584.7 L263.5 586.0 L265.1 587.3 L266.8 588.5 L268.4 589.6 L270.0 590.6" stroke="#2068b4" stroke-dasharray="22 5 7 5"/>
<path d="M108.3 569.8C111.9 569.8 123.3 568.6 129.9 569.8C136.5 571.0 142.2 573.0 147.8 577.0C153.4 581.0 159.4 587.3 163.4 593.7C167.4 600.1 169.4 608.4 171.8 615.3C174.2 622.2 176.3 628.4 178.0 635.0C179.7 641.6 181.3 651.7 182.0 655.0" stroke="#2068b4"/>
</g>
<text x="107.5" y="706.0" font-size="42.5" text-anchor="middle" fill="#262626" font-family='"Liberation Sans", sans-serif' >0</text>
<text x="188.8" y="706.0" font-size="42.5" text-anchor="middle" fill="#262626" font-family='"Liberation Sans", sans-serif' >1</text>
<text x="270.0" y="706.0" font-size="42.5" text-anchor="middle" fill="#262626" font-family='"Liberation Sans", sans-serif' >2</text>
<defs><clipPath id="cb1"><rect x="340.2" y="457.5" width="195.0" height="195.0"/></clipPath></defs>
<g fill="none" stroke-width="3">
<path d="M340.2 457.5H535.2 M340.2 652.5H535.2" stroke="#ababab"/>
<path d="M340.2 456.0V654.0" stroke="#9dc3de" stroke-width="2.6"/>
<path d="M535.2 456.0V654.0" stroke="#dfbfae" stroke-width="2.6"/>
<path d="M372.7 458.5v3M372.7 651.5v-3M453.9 458.5v3M453.9 651.5v-3M535.2 458.5v3M535.2 651.5v-3" stroke="#888" stroke-width="1.5"/>
</g>
<g clip-path="url(#cb1)" fill="none" stroke-width="6.5" stroke-linecap="butt" stroke-linejoin="round">
<path d="M436.8 505.0C438.8 503.6 443.8 501.7 448.8 496.7C453.8 491.7 461.7 481.5 466.7 475.1C471.7 468.7 476.1 462.1 478.7 458.4C481.2 454.7 481.4 453.9 482.0 453.0" stroke="#c95a25" stroke-dasharray="22 5 7 5"/>
<path d="M340.4 604.5C342.5 601.7 347.9 593.9 353.0 587.7C358.1 581.5 363.9 574.6 370.9 567.4C377.9 560.2 386.9 551.8 394.9 544.6C402.9 537.4 411.8 530.7 418.8 524.3C425.8 517.9 430.8 512.7 436.8 506.3C442.8 499.9 448.4 493.7 454.8 485.9C461.2 478.1 471.2 464.8 475.1 459.6C479.0 454.5 477.5 455.8 478.0 455.0" stroke="#c95a25"/>
<path d="M372.7 590.6 L374.3 589.6 L375.9 588.5 L377.6 587.3 L379.2 586.0 L380.8 584.7 L382.4 583.3 L384.1 581.9 L385.7 580.4 L387.3 578.8 L388.9 577.2 L390.6 575.4 L392.2 573.7 L393.8 571.9 L395.4 570.0 L397.1 568.0 L398.7 566.0 L400.3 564.0 L401.9 561.9 L403.6 559.8 L405.2 557.6 L406.8 555.4 L408.4 553.2 L410.1 551.0 L411.7 548.7 L413.3 546.5 L414.9 544.2 L416.6 542.0 L418.2 539.8 L419.8 537.6 L421.4 535.4 L423.1 533.3 L424.7 531.2 L426.3 529.2 L427.9 527.2 L429.6 525.3 L431.2 523.5 L432.8 521.8 L434.4 520.2 L436.1 518.6 L437.7 517.2 L439.3 515.9 L440.9 514.7 L442.6 513.7 L444.2 512.8 L445.8 512.0 L447.4 511.3 L449.1 510.8 L450.7 510.4 L452.3 510.2 L453.9 510.1 L455.6 510.2 L457.2 510.4 L458.8 510.8 L460.4 511.3 L462.1 512.0 L463.7 512.8 L465.3 513.7 L466.9 514.7 L468.6 515.9 L470.2 517.2 L471.8 518.6 L473.5 520.2 L475.1 521.8 L476.7 523.5 L478.3 525.3 L480.0 527.2 L481.6 529.2 L483.2 531.2 L484.8 533.3 L486.4 535.4 L488.1 537.6 L489.7 539.8 L491.3 542.0 L492.9 544.2 L494.6 546.5 L496.2 548.7 L497.8 551.0 L499.4 553.2 L501.1 555.4 L502.7 557.6 L504.3 559.8 L506.0 561.9 L507.6 564.0 L509.2 566.0 L510.8 568.0 L512.5 570.0 L514.1 571.9 L515.7 573.7 L517.3 575.4 L519.0 577.2 L520.6 578.8 L522.2 580.4 L523.8 581.9 L525.5 583.3 L527.1 584.7 L528.7 586.0 L530.3 587.3 L532.0 588.5 L533.6 589.6 L535.2 590.6" stroke="#2068b4" stroke-dasharray="22 5 7 5"/>
<path d="M375.7 569.8C376.9 569.8 379.7 570.6 382.9 569.8C386.1 569.0 390.9 568.0 394.9 565.0C398.9 562.0 402.9 557.0 406.9 551.8C410.9 546.6 414.8 539.2 418.8 533.8C422.8 528.4 426.8 522.9 430.8 519.5C434.8 516.1 439.6 514.3 442.8 513.5C446.0 512.7 447.0 512.3 450.0 514.7C453.0 517.1 457.5 521.6 460.7 527.8C463.9 534.0 466.7 542.8 469.1 551.8C471.5 560.8 473.5 570.7 475.1 581.7C476.7 592.7 477.6 605.5 478.7 617.7C479.8 629.9 481.1 648.8 481.6 655.0" stroke="#2068b4"/>
</g>
<text x="372.7" y="706.0" font-size="42.5" text-anchor="middle" fill="#262626" font-family='"Liberation Sans", sans-serif' >0</text>
<text x="453.9" y="706.0" font-size="42.5" text-anchor="middle" fill="#262626" font-family='"Liberation Sans", sans-serif' >1</text>
<text x="535.2" y="706.0" font-size="42.5" text-anchor="middle" fill="#262626" font-family='"Liberation Sans", sans-serif' >2</text>
<defs><clipPath id="cb2"><rect x="605.7" y="457.5" width="195.0" height="195.0"/></clipPath></defs>
<g fill="none" stroke-width="3">
<path d="M605.7 457.5H800.7 M605.7 652.5H800.7" stroke="#ababab"/>
<path d="M605.7 456.0V654.0" stroke="#9dc3de" stroke-width="2.6"/>
<path d="M800.7 456.0V654.0" stroke="#dfbfae" stroke-width="2.6"/>
<path d="M638.2 458.5v3M638.2 651.5v-3M719.5 458.5v3M719.5 651.5v-3M800.7 458.5v3M800.7 651.5v-3" stroke="#888" stroke-width="1.5"/>
</g>
<g clip-path="url(#cb2)" fill="none" stroke-width="6.5" stroke-linecap="butt" stroke-linejoin="round">
<path d="M683.8 527.2C686.8 523.9 695.8 513.8 701.8 507.5C707.8 501.2 714.8 494.7 719.8 489.5C724.8 484.3 727.3 481.5 731.7 476.3C736.1 471.1 743.2 462.1 746.1 458.4C749.0 454.7 748.5 454.7 749.0 454.0" stroke="#c95a25" stroke-dasharray="22 5 7 5"/>
<path d="M606.0 609.3C608.0 605.9 613.0 596.1 618.0 588.9C623.0 581.7 628.9 573.6 635.9 566.2C642.9 558.8 651.9 551.0 659.9 544.6C667.9 538.2 675.8 532.8 683.8 527.8C691.8 522.8 701.8 518.1 707.8 514.7C713.8 511.3 715.8 510.5 719.8 507.5C723.8 504.5 727.3 500.7 731.7 496.7C736.1 492.7 743.7 485.7 746.1 483.5" stroke="#c95a25"/>
<path d="M638.2 590.6 L639.8 589.6 L641.5 588.5 L643.1 587.3 L644.7 586.0 L646.3 584.7 L648.0 583.3 L649.6 581.9 L651.2 580.4 L652.8 578.8 L654.5 577.2 L656.1 575.4 L657.7 573.7 L659.3 571.9 L661.0 570.0 L662.6 568.0 L664.2 566.0 L665.8 564.0 L667.5 561.9 L669.1 559.8 L670.7 557.6 L672.3 555.4 L674.0 553.2 L675.6 551.0 L677.2 548.7 L678.8 546.5 L680.5 544.2 L682.1 542.0 L683.7 539.8 L685.3 537.6 L687.0 535.4 L688.6 533.3 L690.2 531.2 L691.8 529.2 L693.5 527.2 L695.1 525.3 L696.7 523.5 L698.3 521.8 L700.0 520.2 L701.6 518.6 L703.2 517.2 L704.8 515.9 L706.5 514.7 L708.1 513.7 L709.7 512.8 L711.3 512.0 L713.0 511.3 L714.6 510.8 L716.2 510.4 L717.8 510.2 L719.5 510.1 L721.1 510.2 L722.7 510.4 L724.3 510.8 L726.0 511.3 L727.6 512.0 L729.2 512.8 L730.8 513.7 L732.5 514.7 L734.1 515.9 L735.7 517.2 L737.3 518.6 L739.0 520.2 L740.6 521.8 L742.2 523.5 L743.8 525.3 L745.5 527.2 L747.1 529.2 L748.7 531.2 L750.3 533.3 L752.0 535.4 L753.6 537.6 L755.2 539.8 L756.8 542.0 L758.5 544.2 L760.1 546.5 L761.7 548.7 L763.3 551.0 L765.0 553.2 L766.6 555.4 L768.2 557.6 L769.8 559.8 L771.5 561.9 L773.1 564.0 L774.7 566.0 L776.3 568.0 L778.0 570.0 L779.6 571.9 L781.2 573.7 L782.8 575.4 L784.5 577.2 L786.1 578.8 L787.7 580.4 L789.3 581.9 L791.0 583.3 L792.6 584.7 L794.2 586.0 L795.8 587.3 L797.5 588.5 L799.1 589.6 L800.7 590.6" stroke="#2068b4" stroke-dasharray="22 5 7 5"/>
<path d="M640.7 602.1C642.9 600.9 649.1 598.7 653.9 594.9C658.7 591.1 664.5 586.1 669.5 579.3C674.5 572.5 679.0 562.2 683.8 554.2C688.6 546.2 693.2 537.6 698.2 531.4C703.2 525.2 709.8 519.9 713.8 517.1C717.8 514.3 719.2 513.5 722.2 514.7C725.2 515.9 728.5 518.1 731.7 524.3C734.9 530.5 738.3 540.2 741.3 551.8C744.3 563.4 747.3 576.5 749.7 593.7C752.1 610.9 754.6 644.8 755.6 655.0" stroke="#2068b4"/>
</g>
<text x="638.2" y="706.0" font-size="42.5" text-anchor="middle" fill="#262626" font-family='"Liberation Sans", sans-serif' >0</text>
<text x="719.5" y="706.0" font-size="42.5" text-anchor="middle" fill="#262626" font-family='"Liberation Sans", sans-serif' >1</text>
<text x="800.7" y="706.0" font-size="42.5" text-anchor="middle" fill="#262626" font-family='"Liberation Sans", sans-serif' >2</text>
<defs><clipPath id="cb3"><rect x="871.7" y="457.5" width="195.0" height="195.0"/></clipPath></defs>
<g fill="none" stroke-width="3">
<path d="M871.7 457.5H1066.7 M871.7 652.5H1066.7" stroke="#ababab"/>
<path d="M871.7 456.0V654.0" stroke="#9dc3de" stroke-width="2.6"/>
<path d="M1066.7 456.0V654.0" stroke="#dfbfae" stroke-width="2.6"/>
<path d="M904.2 458.5v3M904.2 651.5v-3M985.5 458.5v3M985.5 651.5v-3M1066.7 458.5v3M1066.7 651.5v-3" stroke="#888" stroke-width="1.5"/>
</g>
<g clip-path="url(#cb3)" fill="none" stroke-width="6.5" stroke-linecap="butt" stroke-linejoin="round">
<path d="M949.8 527.0C952.8 524.0 961.8 515.0 967.8 508.7C973.8 502.4 980.8 495.1 985.8 489.5C990.8 483.9 993.5 480.3 997.7 475.1C1001.9 469.9 1008.2 461.9 1010.9 458.4C1013.6 454.9 1013.5 454.7 1014.0 454.0" stroke="#c95a25" stroke-dasharray="22 5 7 5"/>
<path d="M872.0 610.5C874.0 606.7 879.0 595.3 884.0 587.7C889.0 580.1 894.9 572.4 901.9 565.0C908.9 557.6 917.9 549.6 925.9 543.4C933.9 537.2 941.8 532.2 949.8 527.8C957.8 523.4 967.8 520.1 973.8 517.1C979.8 514.1 981.8 513.3 985.8 509.9C989.8 506.5 993.3 502.3 997.7 496.7C1002.1 491.1 1009.7 479.7 1012.1 476.3" stroke="#c95a25"/>
<path d="M904.2 590.6 L905.8 589.6 L907.5 588.5 L909.1 587.3 L910.7 586.0 L912.3 584.7 L914.0 583.3 L915.6 581.9 L917.2 580.4 L918.8 578.8 L920.5 577.2 L922.1 575.4 L923.7 573.7 L925.3 571.9 L927.0 570.0 L928.6 568.0 L930.2 566.0 L931.8 564.0 L933.5 561.9 L935.1 559.8 L936.7 557.6 L938.3 555.4 L940.0 553.2 L941.6 551.0 L943.2 548.7 L944.8 546.5 L946.5 544.2 L948.1 542.0 L949.7 539.8 L951.3 537.6 L953.0 535.4 L954.6 533.3 L956.2 531.2 L957.8 529.2 L959.5 527.2 L961.1 525.3 L962.7 523.5 L964.3 521.8 L966.0 520.2 L967.6 518.6 L969.2 517.2 L970.8 515.9 L972.5 514.7 L974.1 513.7 L975.7 512.8 L977.3 512.0 L979.0 511.3 L980.6 510.8 L982.2 510.4 L983.8 510.2 L985.5 510.1 L987.1 510.2 L988.7 510.4 L990.3 510.8 L992.0 511.3 L993.6 512.0 L995.2 512.8 L996.8 513.7 L998.5 514.7 L1000.1 515.9 L1001.7 517.2 L1003.3 518.6 L1005.0 520.2 L1006.6 521.8 L1008.2 523.5 L1009.8 525.3 L1011.5 527.2 L1013.1 529.2 L1014.7 531.2 L1016.3 533.3 L1018.0 535.4 L1019.6 537.6 L1021.2 539.8 L1022.8 542.0 L1024.5 544.2 L1026.1 546.5 L1027.7 548.7 L1029.3 551.0 L1031.0 553.2 L1032.6 555.4 L1034.2 557.6 L1035.8 559.8 L1037.5 561.9 L1039.1 564.0 L1040.7 566.0 L1042.3 568.0 L1044.0 570.0 L1045.6 571.9 L1047.2 573.7 L1048.8 575.4 L1050.5 577.2 L1052.1 578.8 L1053.7 580.4 L1055.3 581.9 L1057.0 583.3 L1058.6 584.7 L1060.2 586.0 L1061.8 587.3 L1063.5 588.5 L1065.1 589.6 L1066.7 590.6" stroke="#2068b4" stroke-dasharray="22 5 7 5"/>
<path d="M906.7 612.9C908.9 612.1 915.7 611.3 919.9 608.1C924.1 604.9 927.9 600.1 931.9 593.7C935.9 587.3 939.8 577.8 943.8 569.8C947.8 561.8 951.8 553.0 955.8 545.8C959.8 538.6 962.8 531.6 967.8 526.6C972.8 521.6 980.8 516.3 985.8 515.9C990.8 515.5 993.7 517.7 997.7 524.3C1001.7 530.9 1005.7 540.8 1009.7 555.4C1013.7 570.0 1019.0 595.1 1021.7 611.7C1024.4 628.3 1025.0 647.8 1025.7 655.0" stroke="#2068b4"/>
</g>
<text x="904.2" y="706.0" font-size="42.5" text-anchor="middle" fill="#262626" font-family='"Liberation Sans", sans-serif' >0</text>
<text x="985.5" y="706.0" font-size="42.5" text-anchor="middle" fill="#262626" font-family='"Liberation Sans", sans-serif' >1</text>
<text x="1066.7" y="706.0" font-size="42.5" text-anchor="middle" fill="#262626" font-family='"Liberation Sans", sans-serif' >2</text>
<defs><clipPath id="cb4"><rect x="1137.4" y="457.5" width="195.0" height="195.0"/></clipPath></defs>
<g fill="none" stroke-width="3">
<path d="M1137.4 457.5H1332.4 M1137.4 652.5H1332.4" stroke="#ababab"/>
<path d="M1137.4 456.0V654.0" stroke="#9dc3de" stroke-width="2.6"/>
<path d="M1332.4 456.0V654.0" stroke="#dfbfae" stroke-width="2.6"/>
<path d="M1169.9 458.5v3M1169.9 651.5v-3M1251.2 458.5v3M1251.2 651.5v-3M1332.4 458.5v3M1332.4 651.5v-3" stroke="#888" stroke-width="1.5"/>
</g>
<g clip-path="url(#cb4)" fill="none" stroke-width="6.5" stroke-linecap="butt" stroke-linejoin="round">
<path d="M1215.8 522.0C1218.8 519.4 1227.8 511.7 1233.8 506.3C1239.8 500.9 1244.8 497.7 1251.8 489.5C1258.8 481.3 1271.2 463.4 1275.7 457.2C1280.2 450.9 1278.5 452.9 1279.0 452.0" stroke="#c95a25" stroke-dasharray="22 5 7 5"/>
<path d="M1138.0 608.1C1140.0 604.9 1145.0 596.1 1150.0 588.9C1155.0 581.7 1160.9 573.0 1167.9 565.0C1174.9 557.0 1183.9 547.8 1191.9 541.0C1199.9 534.2 1208.8 528.9 1215.8 524.3C1222.8 519.7 1227.8 518.3 1233.8 513.5C1239.8 508.7 1246.8 501.1 1251.8 495.5C1256.8 489.9 1259.7 485.5 1263.7 479.9C1267.7 474.3 1273.2 466.0 1275.7 462.0C1278.2 458.0 1278.5 457.0 1279.0 456.0" stroke="#c95a25"/>
<path d="M1169.9 590.6 L1171.5 589.6 L1173.2 588.5 L1174.8 587.3 L1176.4 586.0 L1178.0 584.7 L1179.7 583.3 L1181.3 581.9 L1182.9 580.4 L1184.5 578.8 L1186.2 577.2 L1187.8 575.4 L1189.4 573.7 L1191.0 571.9 L1192.7 570.0 L1194.3 568.0 L1195.9 566.0 L1197.5 564.0 L1199.2 561.9 L1200.8 559.8 L1202.4 557.6 L1204.0 555.4 L1205.7 553.2 L1207.3 551.0 L1208.9 548.7 L1210.5 546.5 L1212.2 544.2 L1213.8 542.0 L1215.4 539.8 L1217.0 537.6 L1218.7 535.4 L1220.3 533.3 L1221.9 531.2 L1223.5 529.2 L1225.2 527.2 L1226.8 525.3 L1228.4 523.5 L1230.0 521.8 L1231.7 520.2 L1233.3 518.6 L1234.9 517.2 L1236.5 515.9 L1238.2 514.7 L1239.8 513.7 L1241.4 512.8 L1243.0 512.0 L1244.7 511.3 L1246.3 510.8 L1247.9 510.4 L1249.5 510.2 L1251.2 510.1 L1252.8 510.2 L1254.4 510.4 L1256.0 510.8 L1257.7 511.3 L1259.3 512.0 L1260.9 512.8 L1262.5 513.7 L1264.2 514.7 L1265.8 515.9 L1267.4 517.2 L1269.0 518.6 L1270.7 520.2 L1272.3 521.8 L1273.9 523.5 L1275.5 525.3 L1277.2 527.2 L1278.8 529.2 L1280.4 531.2 L1282.0 533.3 L1283.7 535.4 L1285.3 537.6 L1286.9 539.8 L1288.5 542.0 L1290.2 544.2 L1291.8 546.5 L1293.4 548.7 L1295.0 551.0 L1296.7 553.2 L1298.3 555.4 L1299.9 557.6 L1301.5 559.8 L1303.2 561.9 L1304.8 564.0 L1306.4 566.0 L1308.0 568.0 L1309.7 570.0 L1311.3 571.9 L1312.9 573.7 L1314.5 575.4 L1316.2 577.2 L1317.8 578.8 L1319.4 580.4 L1321.0 581.9 L1322.7 583.3 L1324.3 584.7 L1325.9 586.0 L1327.5 587.3 L1329.2 588.5 L1330.8 589.6 L1332.4 590.6" stroke="#2068b4" stroke-dasharray="22 5 7 5"/>
<path d="M1172.7 588.9C1174.9 587.9 1181.7 585.5 1185.9 582.9C1190.1 580.3 1193.9 577.2 1197.9 573.4C1201.9 569.6 1205.8 565.2 1209.8 560.2C1213.8 555.2 1217.8 548.8 1221.8 543.4C1225.8 538.0 1228.8 532.2 1233.8 527.8C1238.8 523.4 1246.8 518.1 1251.8 517.1C1256.8 516.1 1259.7 518.1 1263.7 521.9C1267.7 525.7 1271.7 528.8 1275.7 539.8C1279.7 550.8 1284.1 568.5 1287.7 587.7C1291.3 606.9 1295.6 643.8 1297.2 655.0" stroke="#2068b4"/>
</g>
<text x="1169.9" y="706.0" font-size="42.5" text-anchor="middle" fill="#262626" font-family='"Liberation Sans", sans-serif' >0</text>
<text x="1251.2" y="706.0" font-size="42.5" text-anchor="middle" fill="#262626" font-family='"Liberation Sans", sans-serif' >1</text>
<text x="1332.4" y="706.0" font-size="42.5" text-anchor="middle" fill="#262626" font-family='"Liberation Sans", sans-serif' >2</text>
<defs><clipPath id="cd0"><rect x="75.0" y="1192.5" width="195.0" height="196.0"/></clipPath></defs>
<g fill="none" stroke-width="3" stroke="#a3a3a3">
<rect x="75.0" y="1192.5" width="195.0" height="196.0"/>
<path d="M75.0 1193.5v3M75.0 1387.5v-3M172.5 1193.5v3M172.5 1387.5v-3M270.0 1193.5v3M270.0 1387.5v-3M76.0 1388.5h3M269.0 1388.5h-3M76.0 1330.9h3M269.0 1330.9h-3M76.0 1273.2h3M269.0 1273.2h-3M76.0 1215.6h3M269.0 1215.6h-3" stroke="#888" stroke-width="1.5"/>
</g>
<g clip-path="url(#cd0)" fill="none" stroke-width="6.5" stroke-linejoin="round">
<path d="M75.0 1315.4 L76.0 1314.1 L77.0 1312.8 L77.9 1311.4 L78.9 1309.9 L79.9 1308.3 L80.8 1306.7 L81.8 1305.0 L82.8 1303.2 L83.8 1301.3 L84.8 1299.4 L85.7 1297.4 L86.7 1295.3 L87.7 1293.1 L88.7 1290.9 L89.6 1288.6 L90.6 1286.3 L91.6 1283.8 L92.5 1281.4 L93.5 1278.9 L94.5 1276.3 L95.5 1273.7 L96.5 1271.1 L97.4 1268.5 L98.4 1265.8 L99.4 1263.1 L100.3 1260.5 L101.3 1257.8 L102.3 1255.2 L103.3 1252.6 L104.2 1250.0 L105.2 1247.5 L106.2 1245.1 L107.2 1242.7 L108.2 1240.4 L109.1 1238.1 L110.1 1236.0 L111.1 1233.9 L112.0 1232.0 L113.0 1230.2 L114.0 1228.5 L115.0 1227.0 L115.9 1225.6 L116.9 1224.4 L117.9 1223.3 L118.9 1222.3 L119.8 1221.6 L120.8 1221.0 L121.8 1220.5 L122.8 1220.3 L123.8 1220.2 L124.7 1220.3 L125.7 1220.5 L126.7 1221.0 L127.7 1221.6 L128.6 1222.3 L129.6 1223.3 L130.6 1224.4 L131.6 1225.6 L132.5 1227.0 L133.5 1228.5 L134.5 1230.2 L135.4 1232.0 L136.4 1233.9 L137.4 1236.0 L138.4 1238.1 L139.4 1240.4 L140.3 1242.7 L141.3 1245.1 L142.3 1247.5 L143.2 1250.0 L144.2 1252.6 L145.2 1255.2 L146.2 1257.8 L147.2 1260.5 L148.1 1263.1 L149.1 1265.8 L150.1 1268.5 L151.1 1271.1 L152.0 1273.7 L153.0 1276.3 L154.0 1278.9 L154.9 1281.4 L155.9 1283.8 L156.9 1286.3 L157.9 1288.6 L158.8 1290.9 L159.8 1293.1 L160.8 1295.3 L161.8 1297.4 L162.8 1299.4 L163.7 1301.3 L164.7 1303.2 L165.7 1305.0 L166.6 1306.7 L167.6 1308.3 L168.6 1309.9 L169.6 1311.4 L170.6 1312.8 L171.5 1314.1 L172.5 1315.4 L173.5 1316.5 L174.4 1317.7 L175.4 1318.7 L176.4 1319.7 L177.4 1320.6 L178.4 1321.5 L179.3 1322.3 L180.3 1323.0 L181.3 1323.7 L182.2 1324.3 L183.2 1324.9 L184.2 1325.5 L185.2 1326.0 L186.1 1326.4 L187.1 1326.9 L188.1 1327.3 L189.1 1327.6 L190.1 1327.9 L191.0 1328.2 L192.0 1328.5 L193.0 1328.8 L193.9 1329.0 L194.9 1329.2 L195.9 1329.4 L196.9 1329.5 L197.8 1329.7 L198.8 1329.8 L199.8 1329.9 L200.8 1330.0 L201.8 1330.1 L202.7 1330.2 L203.7 1330.3 L204.7 1330.4 L205.7 1330.4 L206.6 1330.5 L207.6 1330.5 L208.6 1330.6 L209.5 1330.6 L210.5 1330.6 L211.5 1330.7 L212.5 1330.7 L213.4 1330.7 L214.4 1330.7 L215.4 1330.7 L216.4 1330.8 L217.3 1330.8 L218.3 1330.8 L219.3 1330.8 L220.3 1330.8 L221.2 1330.8 L222.2 1330.8 L223.2 1330.8 L224.2 1330.8 L225.2 1330.8 L226.1 1330.8 L227.1 1330.8 L228.1 1330.8 L229.1 1330.8 L230.0 1330.8 L231.0 1330.8 L232.0 1330.8 L233.0 1330.8 L233.9 1330.8 L234.9 1330.8 L235.9 1330.8 L236.8 1330.9 L237.8 1330.9 L238.8 1330.9 L239.8 1330.9 L240.8 1330.9 L241.7 1330.9 L242.7 1330.9 L243.7 1330.9 L244.7 1330.9 L245.6 1330.9 L246.6 1330.9 L247.6 1330.9 L248.6 1330.9 L249.5 1330.9 L250.5 1330.9 L251.5 1330.9 L252.5 1330.9 L253.4 1330.9 L254.4 1330.9 L255.4 1330.9 L256.4 1330.9 L257.3 1330.9 L258.3 1330.9 L259.3 1330.9 L260.2 1330.9 L261.2 1330.9 L262.2 1330.9 L263.2 1330.9 L264.1 1330.9 L265.1 1330.9 L266.1 1330.9 L267.1 1330.9 L268.1 1330.9 L269.0 1330.9 L270.0 1330.9" stroke="#2068b4" stroke-dasharray="22 5 7 5"/>
<path d="M75.0 1330.9H270.0" stroke="#2068b4"/>
</g>
<text x="75.0" y="1440.0" font-size="42.5" text-anchor="middle" fill="#262626" font-family='"Liberation Sans", sans-serif' >0</text>
<text x="172.5" y="1440.0" font-size="42.5" text-anchor="middle" fill="#262626" font-family='"Liberation Sans", sans-serif' >2</text>
<text x="270.0" y="1440.0" font-size="42.5" text-anchor="middle" fill="#262626" font-family='"Liberation Sans", sans-serif' >4</text>
<defs><clipPath id="cd1"><rect x="340.2" y="1192.5" width="195.0" height="196.0"/></clipPath></defs>
<g fill="none" stroke-width="3" stroke="#a3a3a3">
<rect x="340.2" y="1192.5" width="195.0" height="196.0"/>
<path d="M340.2 1193.5v3M340.2 1387.5v-3M437.7 1193.5v3M437.7 1387.5v-3M535.2 1193.5v3M535.2 1387.5v-3M341.2 1388.5h3M534.2 1388.5h-3M341.2 1330.9h3M534.2 1330.9h-3M341.2 1273.2h3M534.2 1273.2h-3M341.2 1215.6h3M534.2 1215.6h-3" stroke="#888" stroke-width="1.5"/>
</g>
<g clip-path="url(#cd1)" fill="none" stroke-width="6.5" stroke-linejoin="round">
<path d="M340.2 1315.4 L341.2 1314.1 L342.1 1312.8 L343.1 1311.4 L344.1 1309.9 L345.1 1308.3 L346.1 1306.7 L347.0 1305.0 L348.0 1303.2 L349.0 1301.3 L349.9 1299.4 L350.9 1297.4 L351.9 1295.3 L352.9 1293.1 L353.8 1290.9 L354.8 1288.6 L355.8 1286.3 L356.8 1283.8 L357.8 1281.4 L358.7 1278.9 L359.7 1276.3 L360.7 1273.7 L361.6 1271.1 L362.6 1268.5 L363.6 1265.8 L364.6 1263.1 L365.6 1260.5 L366.5 1257.8 L367.5 1255.2 L368.5 1252.6 L369.4 1250.0 L370.4 1247.5 L371.4 1245.1 L372.4 1242.7 L373.4 1240.4 L374.3 1238.1 L375.3 1236.0 L376.3 1233.9 L377.2 1232.0 L378.2 1230.2 L379.2 1228.5 L380.2 1227.0 L381.1 1225.6 L382.1 1224.4 L383.1 1223.3 L384.1 1222.3 L385.1 1221.6 L386.0 1221.0 L387.0 1220.5 L388.0 1220.3 L388.9 1220.2 L389.9 1220.3 L390.9 1220.5 L391.9 1221.0 L392.9 1221.6 L393.8 1222.3 L394.8 1223.3 L395.8 1224.4 L396.8 1225.6 L397.7 1227.0 L398.7 1228.5 L399.7 1230.2 L400.6 1232.0 L401.6 1233.9 L402.6 1236.0 L403.6 1238.1 L404.6 1240.4 L405.5 1242.7 L406.5 1245.1 L407.5 1247.5 L408.4 1250.0 L409.4 1252.6 L410.4 1255.2 L411.4 1257.8 L412.4 1260.5 L413.3 1263.1 L414.3 1265.8 L415.3 1268.5 L416.2 1271.1 L417.2 1273.7 L418.2 1276.3 L419.2 1278.9 L420.1 1281.4 L421.1 1283.8 L422.1 1286.3 L423.1 1288.6 L424.0 1290.9 L425.0 1293.1 L426.0 1295.3 L427.0 1297.4 L427.9 1299.4 L428.9 1301.3 L429.9 1303.2 L430.9 1305.0 L431.8 1306.7 L432.8 1308.3 L433.8 1309.9 L434.8 1311.4 L435.8 1312.8 L436.7 1314.1 L437.7 1315.4 L438.7 1316.5 L439.6 1317.7 L440.6 1318.7 L441.6 1319.7 L442.6 1320.6 L443.6 1321.5 L444.5 1322.3 L445.5 1323.0 L446.5 1323.7 L447.4 1324.3 L448.4 1324.9 L449.4 1325.5 L450.4 1326.0 L451.3 1326.4 L452.3 1326.9 L453.3 1327.3 L454.3 1327.6 L455.2 1327.9 L456.2 1328.2 L457.2 1328.5 L458.2 1328.8 L459.1 1329.0 L460.1 1329.2 L461.1 1329.4 L462.1 1329.5 L463.0 1329.7 L464.0 1329.8 L465.0 1329.9 L466.0 1330.0 L466.9 1330.1 L467.9 1330.2 L468.9 1330.3 L469.9 1330.4 L470.9 1330.4 L471.8 1330.5 L472.8 1330.5 L473.8 1330.6 L474.8 1330.6 L475.7 1330.6 L476.7 1330.7 L477.7 1330.7 L478.6 1330.7 L479.6 1330.7 L480.6 1330.7 L481.6 1330.8 L482.5 1330.8 L483.5 1330.8 L484.5 1330.8 L485.5 1330.8 L486.4 1330.8 L487.4 1330.8 L488.4 1330.8 L489.4 1330.8 L490.4 1330.8 L491.3 1330.8 L492.3 1330.8 L493.3 1330.8 L494.2 1330.8 L495.2 1330.8 L496.2 1330.8 L497.2 1330.8 L498.1 1330.8 L499.1 1330.8 L500.1 1330.8 L501.1 1330.8 L502.0 1330.9 L503.0 1330.9 L504.0 1330.9 L505.0 1330.9 L505.9 1330.9 L506.9 1330.9 L507.9 1330.9 L508.9 1330.9 L509.9 1330.9 L510.8 1330.9 L511.8 1330.9 L512.8 1330.9 L513.8 1330.9 L514.7 1330.9 L515.7 1330.9 L516.7 1330.9 L517.6 1330.9 L518.6 1330.9 L519.6 1330.9 L520.6 1330.9 L521.5 1330.9 L522.5 1330.9 L523.5 1330.9 L524.5 1330.9 L525.5 1330.9 L526.4 1330.9 L527.4 1330.9 L528.4 1330.9 L529.4 1330.9 L530.3 1330.9 L531.3 1330.9 L532.3 1330.9 L533.2 1330.9 L534.2 1330.9 L535.2 1330.9" stroke="#2068b4" stroke-dasharray="22 5 7 5"/>
<path d="M340.2 1232.7C341.5 1230.9 345.4 1222.5 348.1 1222.0C350.8 1221.4 353.3 1223.2 356.3 1229.4C359.4 1235.6 362.4 1243.9 366.2 1259.0C370.1 1274.1 375.8 1305.7 379.4 1320.0C383.0 1334.2 384.3 1338.9 387.6 1344.7C390.9 1350.4 395.0 1355.1 399.2 1354.6C403.3 1354.0 406.8 1348.2 412.3 1341.4C417.8 1334.5 426.6 1317.0 432.1 1313.4C437.6 1309.8 440.3 1316.7 445.3 1320.0C450.2 1323.3 456.2 1329.3 461.7 1333.1C467.2 1337.0 472.7 1342.5 478.2 1343.0C483.7 1343.6 489.2 1339.7 494.7 1336.4C500.2 1333.1 504.4 1326.3 511.1 1323.3C517.9 1320.2 531.0 1319.1 535.0 1318.3" stroke="#2068b4"/>
</g>
<text x="340.2" y="1440.0" font-size="42.5" text-anchor="middle" fill="#262626" font-family='"Liberation Sans", sans-serif' >0</text>
<text x="437.7" y="1440.0" font-size="42.5" text-anchor="middle" fill="#262626" font-family='"Liberation Sans", sans-serif' >2</text>
<text x="535.2" y="1440.0" font-size="42.5" text-anchor="middle" fill="#262626" font-family='"Liberation Sans", sans-serif' >4</text>
<defs><clipPath id="cd2"><rect x="605.7" y="1192.5" width="195.0" height="196.0"/></clipPath></defs>
<g fill="none" stroke-width="3" stroke="#a3a3a3">
<rect x="605.7" y="1192.5" width="195.0" height="196.0"/>
<path d="M605.7 1193.5v3M605.7 1387.5v-3M703.2 1193.5v3M703.2 1387.5v-3M800.7 1193.5v3M800.7 1387.5v-3M606.7 1388.5h3M799.7 1388.5h-3M606.7 1330.9h3M799.7 1330.9h-3M606.7 1273.2h3M799.7 1273.2h-3M606.7 1215.6h3M799.7 1215.6h-3" stroke="#888" stroke-width="1.5"/>
</g>
<g clip-path="url(#cd2)" fill="none" stroke-width="6.5" stroke-linejoin="round">
<path d="M605.7 1315.4 L606.7 1314.1 L607.7 1312.8 L608.6 1311.4 L609.6 1309.9 L610.6 1308.3 L611.6 1306.7 L612.5 1305.0 L613.5 1303.2 L614.5 1301.3 L615.5 1299.4 L616.4 1297.4 L617.4 1295.3 L618.4 1293.1 L619.4 1290.9 L620.3 1288.6 L621.3 1286.3 L622.3 1283.8 L623.2 1281.4 L624.2 1278.9 L625.2 1276.3 L626.2 1273.7 L627.2 1271.1 L628.1 1268.5 L629.1 1265.8 L630.1 1263.1 L631.1 1260.5 L632.0 1257.8 L633.0 1255.2 L634.0 1252.6 L635.0 1250.0 L635.9 1247.5 L636.9 1245.1 L637.9 1242.7 L638.9 1240.4 L639.8 1238.1 L640.8 1236.0 L641.8 1233.9 L642.8 1232.0 L643.7 1230.2 L644.7 1228.5 L645.7 1227.0 L646.7 1225.6 L647.6 1224.4 L648.6 1223.3 L649.6 1222.3 L650.6 1221.6 L651.5 1221.0 L652.5 1220.5 L653.5 1220.3 L654.5 1220.2 L655.4 1220.3 L656.4 1220.5 L657.4 1221.0 L658.4 1221.6 L659.3 1222.3 L660.3 1223.3 L661.3 1224.4 L662.2 1225.6 L663.2 1227.0 L664.2 1228.5 L665.2 1230.2 L666.2 1232.0 L667.1 1233.9 L668.1 1236.0 L669.1 1238.1 L670.1 1240.4 L671.0 1242.7 L672.0 1245.1 L673.0 1247.5 L674.0 1250.0 L674.9 1252.6 L675.9 1255.2 L676.9 1257.8 L677.9 1260.5 L678.8 1263.1 L679.8 1265.8 L680.8 1268.5 L681.8 1271.1 L682.7 1273.7 L683.7 1276.3 L684.7 1278.9 L685.7 1281.4 L686.6 1283.8 L687.6 1286.3 L688.6 1288.6 L689.6 1290.9 L690.5 1293.1 L691.5 1295.3 L692.5 1297.4 L693.5 1299.4 L694.4 1301.3 L695.4 1303.2 L696.4 1305.0 L697.4 1306.7 L698.3 1308.3 L699.3 1309.9 L700.3 1311.4 L701.2 1312.8 L702.2 1314.1 L703.2 1315.4 L704.2 1316.5 L705.2 1317.7 L706.1 1318.7 L707.1 1319.7 L708.1 1320.6 L709.1 1321.5 L710.0 1322.3 L711.0 1323.0 L712.0 1323.7 L713.0 1324.3 L713.9 1324.9 L714.9 1325.5 L715.9 1326.0 L716.9 1326.4 L717.8 1326.9 L718.8 1327.3 L719.8 1327.6 L720.8 1327.9 L721.7 1328.2 L722.7 1328.5 L723.7 1328.8 L724.7 1329.0 L725.6 1329.2 L726.6 1329.4 L727.6 1329.5 L728.6 1329.7 L729.5 1329.8 L730.5 1329.9 L731.5 1330.0 L732.5 1330.1 L733.4 1330.2 L734.4 1330.3 L735.4 1330.4 L736.4 1330.4 L737.3 1330.5 L738.3 1330.5 L739.3 1330.6 L740.2 1330.6 L741.2 1330.6 L742.2 1330.7 L743.2 1330.7 L744.2 1330.7 L745.1 1330.7 L746.1 1330.7 L747.1 1330.8 L748.1 1330.8 L749.0 1330.8 L750.0 1330.8 L751.0 1330.8 L752.0 1330.8 L752.9 1330.8 L753.9 1330.8 L754.9 1330.8 L755.9 1330.8 L756.8 1330.8 L757.8 1330.8 L758.8 1330.8 L759.8 1330.8 L760.7 1330.8 L761.7 1330.8 L762.7 1330.8 L763.7 1330.8 L764.6 1330.8 L765.6 1330.8 L766.6 1330.8 L767.6 1330.9 L768.5 1330.9 L769.5 1330.9 L770.5 1330.9 L771.5 1330.9 L772.4 1330.9 L773.4 1330.9 L774.4 1330.9 L775.4 1330.9 L776.3 1330.9 L777.3 1330.9 L778.3 1330.9 L779.2 1330.9 L780.2 1330.9 L781.2 1330.9 L782.2 1330.9 L783.2 1330.9 L784.1 1330.9 L785.1 1330.9 L786.1 1330.9 L787.1 1330.9 L788.0 1330.9 L789.0 1330.9 L790.0 1330.9 L791.0 1330.9 L791.9 1330.9 L792.9 1330.9 L793.9 1330.9 L794.9 1330.9 L795.8 1330.9 L796.8 1330.9 L797.8 1330.9 L798.8 1330.9 L799.7 1330.9 L800.7 1330.9" stroke="#2068b4" stroke-dasharray="22 5 7 5"/>
<path d="M605.7 1201.4C607.5 1204.7 613.0 1215.5 616.4 1221.2C619.8 1226.8 622.7 1233.2 626.3 1235.2C629.9 1237.1 634.0 1234.8 637.8 1232.7C641.7 1230.6 646.0 1223.6 649.3 1222.8C652.6 1222.0 654.8 1222.5 657.6 1227.8C660.3 1233.0 662.5 1240.1 665.8 1254.1C669.1 1268.1 673.8 1295.3 677.3 1311.7C680.9 1328.2 683.4 1342.7 687.2 1352.9C691.1 1363.1 696.0 1373.5 700.4 1372.7C704.8 1371.8 709.2 1356.7 713.6 1348.0C718.0 1339.2 721.8 1328.5 726.7 1320.0C731.7 1311.5 737.7 1298.3 743.2 1296.9C748.7 1295.5 754.2 1304.3 759.7 1311.7C765.2 1319.1 769.4 1333.4 776.1 1341.4C782.9 1349.3 796.0 1356.5 800.0 1359.5" stroke="#2068b4"/>
</g>
<text x="605.7" y="1440.0" font-size="42.5" text-anchor="middle" fill="#262626" font-family='"Liberation Sans", sans-serif' >0</text>
<text x="703.2" y="1440.0" font-size="42.5" text-anchor="middle" fill="#262626" font-family='"Liberation Sans", sans-serif' >2</text>
<text x="800.7" y="1440.0" font-size="42.5" text-anchor="middle" fill="#262626" font-family='"Liberation Sans", sans-serif' >4</text>
<defs><clipPath id="cd3"><rect x="871.7" y="1192.5" width="195.0" height="196.0"/></clipPath></defs>
<g fill="none" stroke-width="3" stroke="#a3a3a3">
<rect x="871.7" y="1192.5" width="195.0" height="196.0"/>
<path d="M871.7 1193.5v3M871.7 1387.5v-3M969.2 1193.5v3M969.2 1387.5v-3M1066.7 1193.5v3M1066.7 1387.5v-3M872.7 1388.5h3M1065.7 1388.5h-3M872.7 1330.9h3M1065.7 1330.9h-3M872.7 1273.2h3M1065.7 1273.2h-3M872.7 1215.6h3M1065.7 1215.6h-3" stroke="#888" stroke-width="1.5"/>
</g>
<g clip-path="url(#cd3)" fill="none" stroke-width="6.5" stroke-linejoin="round">
<path d="M871.7 1315.4 L872.7 1314.1 L873.7 1312.8 L874.6 1311.4 L875.6 1309.9 L876.6 1308.3 L877.6 1306.7 L878.5 1305.0 L879.5 1303.2 L880.5 1301.3 L881.5 1299.4 L882.4 1297.4 L883.4 1295.3 L884.4 1293.1 L885.4 1290.9 L886.3 1288.6 L887.3 1286.3 L888.3 1283.8 L889.2 1281.4 L890.2 1278.9 L891.2 1276.3 L892.2 1273.7 L893.2 1271.1 L894.1 1268.5 L895.1 1265.8 L896.1 1263.1 L897.1 1260.5 L898.0 1257.8 L899.0 1255.2 L900.0 1252.6 L901.0 1250.0 L901.9 1247.5 L902.9 1245.1 L903.9 1242.7 L904.9 1240.4 L905.8 1238.1 L906.8 1236.0 L907.8 1233.9 L908.8 1232.0 L909.7 1230.2 L910.7 1228.5 L911.7 1227.0 L912.7 1225.6 L913.6 1224.4 L914.6 1223.3 L915.6 1222.3 L916.6 1221.6 L917.5 1221.0 L918.5 1220.5 L919.5 1220.3 L920.5 1220.2 L921.4 1220.3 L922.4 1220.5 L923.4 1221.0 L924.4 1221.6 L925.3 1222.3 L926.3 1223.3 L927.3 1224.4 L928.2 1225.6 L929.2 1227.0 L930.2 1228.5 L931.2 1230.2 L932.2 1232.0 L933.1 1233.9 L934.1 1236.0 L935.1 1238.1 L936.1 1240.4 L937.0 1242.7 L938.0 1245.1 L939.0 1247.5 L940.0 1250.0 L940.9 1252.6 L941.9 1255.2 L942.9 1257.8 L943.9 1260.5 L944.8 1263.1 L945.8 1265.8 L946.8 1268.5 L947.8 1271.1 L948.7 1273.7 L949.7 1276.3 L950.7 1278.9 L951.7 1281.4 L952.6 1283.8 L953.6 1286.3 L954.6 1288.6 L955.6 1290.9 L956.5 1293.1 L957.5 1295.3 L958.5 1297.4 L959.5 1299.4 L960.4 1301.3 L961.4 1303.2 L962.4 1305.0 L963.4 1306.7 L964.3 1308.3 L965.3 1309.9 L966.3 1311.4 L967.2 1312.8 L968.2 1314.1 L969.2 1315.4 L970.2 1316.5 L971.2 1317.7 L972.1 1318.7 L973.1 1319.7 L974.1 1320.6 L975.1 1321.5 L976.0 1322.3 L977.0 1323.0 L978.0 1323.7 L979.0 1324.3 L979.9 1324.9 L980.9 1325.5 L981.9 1326.0 L982.9 1326.4 L983.8 1326.9 L984.8 1327.3 L985.8 1327.6 L986.8 1327.9 L987.7 1328.2 L988.7 1328.5 L989.7 1328.8 L990.7 1329.0 L991.6 1329.2 L992.6 1329.4 L993.6 1329.5 L994.6 1329.7 L995.5 1329.8 L996.5 1329.9 L997.5 1330.0 L998.5 1330.1 L999.4 1330.2 L1000.4 1330.3 L1001.4 1330.4 L1002.4 1330.4 L1003.3 1330.5 L1004.3 1330.5 L1005.3 1330.6 L1006.2 1330.6 L1007.2 1330.6 L1008.2 1330.7 L1009.2 1330.7 L1010.2 1330.7 L1011.1 1330.7 L1012.1 1330.7 L1013.1 1330.8 L1014.1 1330.8 L1015.0 1330.8 L1016.0 1330.8 L1017.0 1330.8 L1018.0 1330.8 L1018.9 1330.8 L1019.9 1330.8 L1020.9 1330.8 L1021.9 1330.8 L1022.8 1330.8 L1023.8 1330.8 L1024.8 1330.8 L1025.8 1330.8 L1026.7 1330.8 L1027.7 1330.8 L1028.7 1330.8 L1029.7 1330.8 L1030.6 1330.8 L1031.6 1330.8 L1032.6 1330.8 L1033.5 1330.9 L1034.5 1330.9 L1035.5 1330.9 L1036.5 1330.9 L1037.5 1330.9 L1038.4 1330.9 L1039.4 1330.9 L1040.4 1330.9 L1041.4 1330.9 L1042.3 1330.9 L1043.3 1330.9 L1044.3 1330.9 L1045.2 1330.9 L1046.2 1330.9 L1047.2 1330.9 L1048.2 1330.9 L1049.2 1330.9 L1050.1 1330.9 L1051.1 1330.9 L1052.1 1330.9 L1053.1 1330.9 L1054.0 1330.9 L1055.0 1330.9 L1056.0 1330.9 L1057.0 1330.9 L1057.9 1330.9 L1058.9 1330.9 L1059.9 1330.9 L1060.9 1330.9 L1061.8 1330.9 L1062.8 1330.9 L1063.8 1330.9 L1064.8 1330.9 L1065.7 1330.9 L1066.7 1330.9" stroke="#2068b4" stroke-dasharray="22 5 7 5"/>
<path d="M871.2 1288.7C872.5 1288.8 876.4 1290.1 879.1 1289.5C881.8 1289.0 883.5 1292.1 887.3 1285.4C891.2 1278.7 896.7 1259.9 902.2 1249.2C907.7 1238.5 914.8 1223.4 920.3 1221.2C925.8 1219.0 930.4 1228.0 935.1 1236.0C939.8 1243.9 944.2 1260.1 948.3 1268.9C952.4 1277.7 955.1 1284.3 959.8 1288.7C964.5 1293.1 971.3 1293.3 976.3 1295.3C981.2 1297.2 985.3 1297.5 989.4 1300.2C993.6 1303.0 996.3 1305.7 1001.0 1311.7C1005.6 1317.8 1011.9 1328.2 1017.4 1336.4C1022.9 1344.7 1028.7 1355.6 1033.9 1361.1C1039.1 1366.6 1043.2 1369.1 1048.7 1369.4C1054.2 1369.6 1063.8 1363.9 1066.8 1362.8" stroke="#2068b4"/>
</g>
<text x="871.7" y="1440.0" font-size="42.5" text-anchor="middle" fill="#262626" font-family='"Liberation Sans", sans-serif' >0</text>
<text x="969.2" y="1440.0" font-size="42.5" text-anchor="middle" fill="#262626" font-family='"Liberation Sans", sans-serif' >2</text>
<text x="1066.7" y="1440.0" font-size="42.5" text-anchor="middle" fill="#262626" font-family='"Liberation Sans", sans-serif' >4</text>
<defs><clipPath id="cd4"><rect x="1137.4" y="1192.5" width="195.0" height="196.0"/></clipPath></defs>
<path d="M1137.0 1279.3 L1145.6 1281.9 L1156.7 1283.0 L1148.0 1315.2 L1140.9 1334.0 L1137.0 1347.4Z" fill="#cfe0f1"/>
<path d="M1218.7 1275.9 L1236.0 1283.0 L1259.6 1290.8 L1275.3 1292.4 L1332.2 1290.3 L1332.2 1369.4 L1283.2 1368.6 L1259.6 1367.1 L1245.5 1360.8 L1236.0 1346.6 L1228.2 1321.5 L1220.3 1299.5Z" fill="#cfe0f1"/>
<g fill="none" stroke-width="3" stroke="#a3a3a3">
<path d="M1137.4 1192.5V1388.5H1332.4" stroke="#8a8a8a"/>
<path d="M1137.4 1387.5v-3M1234.9 1387.5v-3M1332.4 1387.5v-3M1138.4 1388.5h3M1138.4 1330.9h3M1138.4 1273.2h3M1138.4 1215.6h3" stroke="#888" stroke-width="1.5"/>
</g>
<g clip-path="url(#cd4)" fill="none" stroke-width="6.5" stroke-linejoin="round">
<path d="M1137.4 1315.4 L1138.4 1314.1 L1139.4 1312.8 L1140.3 1311.4 L1141.3 1309.9 L1142.3 1308.3 L1143.2 1306.7 L1144.2 1305.0 L1145.2 1303.2 L1146.2 1301.3 L1147.2 1299.4 L1148.1 1297.4 L1149.1 1295.3 L1150.1 1293.1 L1151.1 1290.9 L1152.0 1288.6 L1153.0 1286.3 L1154.0 1283.8 L1155.0 1281.4 L1155.9 1278.9 L1156.9 1276.3 L1157.9 1273.7 L1158.9 1271.1 L1159.8 1268.5 L1160.8 1265.8 L1161.8 1263.1 L1162.8 1260.5 L1163.7 1257.8 L1164.7 1255.2 L1165.7 1252.6 L1166.7 1250.0 L1167.6 1247.5 L1168.6 1245.1 L1169.6 1242.7 L1170.6 1240.4 L1171.5 1238.1 L1172.5 1236.0 L1173.5 1233.9 L1174.5 1232.0 L1175.4 1230.2 L1176.4 1228.5 L1177.4 1227.0 L1178.4 1225.6 L1179.3 1224.4 L1180.3 1223.3 L1181.3 1222.3 L1182.2 1221.6 L1183.2 1221.0 L1184.2 1220.5 L1185.2 1220.3 L1186.2 1220.2 L1187.1 1220.3 L1188.1 1220.5 L1189.1 1221.0 L1190.1 1221.6 L1191.0 1222.3 L1192.0 1223.3 L1193.0 1224.4 L1194.0 1225.6 L1194.9 1227.0 L1195.9 1228.5 L1196.9 1230.2 L1197.9 1232.0 L1198.8 1233.9 L1199.8 1236.0 L1200.8 1238.1 L1201.8 1240.4 L1202.7 1242.7 L1203.7 1245.1 L1204.7 1247.5 L1205.7 1250.0 L1206.6 1252.6 L1207.6 1255.2 L1208.6 1257.8 L1209.6 1260.5 L1210.5 1263.1 L1211.5 1265.8 L1212.5 1268.5 L1213.5 1271.1 L1214.4 1273.7 L1215.4 1276.3 L1216.4 1278.9 L1217.4 1281.4 L1218.3 1283.8 L1219.3 1286.3 L1220.3 1288.6 L1221.2 1290.9 L1222.2 1293.1 L1223.2 1295.3 L1224.2 1297.4 L1225.2 1299.4 L1226.1 1301.3 L1227.1 1303.2 L1228.1 1305.0 L1229.1 1306.7 L1230.0 1308.3 L1231.0 1309.9 L1232.0 1311.4 L1233.0 1312.8 L1233.9 1314.1 L1234.9 1315.4 L1235.9 1316.5 L1236.9 1317.7 L1237.8 1318.7 L1238.8 1319.7 L1239.8 1320.6 L1240.8 1321.5 L1241.7 1322.3 L1242.7 1323.0 L1243.7 1323.7 L1244.7 1324.3 L1245.6 1324.9 L1246.6 1325.5 L1247.6 1326.0 L1248.6 1326.4 L1249.5 1326.9 L1250.5 1327.3 L1251.5 1327.6 L1252.5 1327.9 L1253.4 1328.2 L1254.4 1328.5 L1255.4 1328.8 L1256.4 1329.0 L1257.3 1329.2 L1258.3 1329.4 L1259.3 1329.5 L1260.2 1329.7 L1261.2 1329.8 L1262.2 1329.9 L1263.2 1330.0 L1264.2 1330.1 L1265.1 1330.2 L1266.1 1330.3 L1267.1 1330.4 L1268.1 1330.4 L1269.0 1330.5 L1270.0 1330.5 L1271.0 1330.6 L1272.0 1330.6 L1272.9 1330.6 L1273.9 1330.7 L1274.9 1330.7 L1275.9 1330.7 L1276.8 1330.7 L1277.8 1330.7 L1278.8 1330.8 L1279.8 1330.8 L1280.7 1330.8 L1281.7 1330.8 L1282.7 1330.8 L1283.7 1330.8 L1284.6 1330.8 L1285.6 1330.8 L1286.6 1330.8 L1287.6 1330.8 L1288.5 1330.8 L1289.5 1330.8 L1290.5 1330.8 L1291.5 1330.8 L1292.4 1330.8 L1293.4 1330.8 L1294.4 1330.8 L1295.4 1330.8 L1296.3 1330.8 L1297.3 1330.8 L1298.3 1330.8 L1299.2 1330.9 L1300.2 1330.9 L1301.2 1330.9 L1302.2 1330.9 L1303.2 1330.9 L1304.1 1330.9 L1305.1 1330.9 L1306.1 1330.9 L1307.1 1330.9 L1308.0 1330.9 L1309.0 1330.9 L1310.0 1330.9 L1311.0 1330.9 L1311.9 1330.9 L1312.9 1330.9 L1313.9 1330.9 L1314.9 1330.9 L1315.8 1330.9 L1316.8 1330.9 L1317.8 1330.9 L1318.8 1330.9 L1319.7 1330.9 L1320.7 1330.9 L1321.7 1330.9 L1322.7 1330.9 L1323.6 1330.9 L1324.6 1330.9 L1325.6 1330.9 L1326.6 1330.9 L1327.5 1330.9 L1328.5 1330.9 L1329.5 1330.9 L1330.5 1330.9 L1331.4 1330.9 L1332.4 1330.9" stroke="#2068b4" stroke-dasharray="22 5 7 5"/>
<path d="M1137.1 1311.7C1139.1 1309.5 1145.3 1305.1 1148.9 1298.6C1152.6 1292.0 1155.2 1281.5 1158.8 1272.2C1162.4 1262.9 1165.7 1251.1 1170.3 1242.6C1175.0 1234.1 1181.6 1222.3 1186.8 1221.2C1192.0 1220.1 1197.0 1227.8 1201.6 1236.0C1206.3 1244.2 1210.4 1259.3 1214.8 1270.6C1219.2 1281.8 1223.9 1295.3 1228.0 1303.5C1232.1 1311.7 1234.8 1315.9 1239.5 1320.0C1244.2 1324.1 1250.5 1326.8 1256.0 1328.2C1261.5 1329.6 1266.9 1327.7 1272.4 1328.2C1277.9 1328.8 1283.4 1330.4 1288.9 1331.5C1294.4 1332.6 1298.2 1334.2 1305.4 1334.8C1312.5 1335.3 1327.3 1334.8 1331.7 1334.8" stroke="#2068b4"/>
</g>
<text x="1137.4" y="1440.0" font-size="42.5" text-anchor="middle" fill="#262626" font-family='"Liberation Sans", sans-serif' >0</text>
<text x="1234.9" y="1440.0" font-size="42.5" text-anchor="middle" fill="#262626" font-family='"Liberation Sans", sans-serif' >2</text>
<text x="1332.4" y="1440.0" font-size="42.5" text-anchor="middle" fill="#262626" font-family='"Liberation Sans", sans-serif' >4</text>
<text x="60.5" y="472.5" font-size="42.5" text-anchor="end" fill="#3a7dc0" font-family='"Liberation Sans", sans-serif' letter-spacing="0.6">1.5</text>
<text x="60.5" y="521.2" font-size="42.5" text-anchor="end" fill="#3a7dc0" font-family='"Liberation Sans", sans-serif' letter-spacing="0.6">1</text>
<text x="60.5" y="570.0" font-size="42.5" text-anchor="end" fill="#3a7dc0" font-family='"Liberation Sans", sans-serif' letter-spacing="0.6">0.5</text>
<text x="60.5" y="618.8" font-size="42.5" text-anchor="end" fill="#3a7dc0" font-family='"Liberation Sans", sans-serif' letter-spacing="0.6">0</text>
<text x="60.5" y="667.5" font-size="42.5" text-anchor="end" fill="#3a7dc0" font-family='"Liberation Sans", sans-serif' letter-spacing="0.6">-0.5</text>
<text x="284.0" y="490.2" font-size="42.5" text-anchor="start" fill="#d0652f" font-family='"Liberation Sans", sans-serif' >1</text>
<text x="284.0" y="578.9" font-size="42.5" text-anchor="start" fill="#d0652f" font-family='"Liberation Sans", sans-serif' >0</text>
<text x="284.0" y="667.5" font-size="42.5" text-anchor="start" fill="#d0652f" font-family='"Liberation Sans", sans-serif' >-1</text>
<text x="59.5" y="1230.6" font-size="42.5" text-anchor="end" fill="#262626" font-family='"Liberation Sans", sans-serif' letter-spacing="0.6">1</text>
<text x="59.5" y="1288.2" font-size="42.5" text-anchor="end" fill="#262626" font-family='"Liberation Sans", sans-serif' letter-spacing="0.6">0.5</text>
<text x="59.5" y="1345.9" font-size="42.5" text-anchor="end" fill="#262626" font-family='"Liberation Sans", sans-serif' letter-spacing="0.6">0</text>
<text x="59.5" y="1403.5" font-size="42.5" text-anchor="end" fill="#262626" font-family='"Liberation Sans", sans-serif' letter-spacing="0.6">-0.5</text>
<text x="96" y="756" font-size="42" fill="#262626" font-family='"Liberation Sans", sans-serif'><tspan font-family='"Liberation Serif", serif' font-style="italic">&#951;</tspan><tspan dx="2"> or k/k</tspan><tspan font-size="34" dy="18">0</tspan></text>
<text x="136" y="1491" font-size="42" fill="#262626" font-family='"Liberation Sans", sans-serif'>k/k<tspan font-size="34" dy="18">0</tspan></text>
<g fill="none" stroke-width="6">
<path d="M126 1539.5H217" stroke="#2068b4" stroke-dasharray="23 7 12 6"/>
<path d="M482 1539.5H575" stroke="#2068b4"/>
<path d="M697 1539.5H791" stroke="#c95a25" stroke-dasharray="23 7 12 6"/>
<path d="M1049 1539.5H1142" stroke="#c95a25"/>
</g>
<text x="229.0" y="1552" font-size="44" fill="#333" font-family='"Liberation Serif", serif' textLength="240.0" lengthAdjust="spacingAndGlyphs"><tspan font-style="italic">C</tspan><tspan font-size="30" dy="10">2</tspan><tspan dy="-10">(</tspan><tspan font-style="italic">k</tspan>)<tspan dx="16">(truth)</tspan></text>
<text x="246.0" y="1538" font-size="34" fill="#333" font-family='"Liberation Serif", serif'>&#710;</text>
<text x="584.0" y="1552" font-size="44" fill="#333" font-family='"Liberation Serif", serif' textLength="100.0" lengthAdjust="spacingAndGlyphs"><tspan font-style="italic">C</tspan><tspan font-size="30" dy="10">2</tspan><tspan dy="-10">(</tspan><tspan font-style="italic">k</tspan>)</text>
<text x="601.0" y="1538" font-size="34" fill="#333" font-family='"Liberation Serif", serif'>&#710;</text>
<text x="799.0" y="1552" font-size="44" fill="#333" font-family='"Liberation Serif", serif' textLength="235.0" lengthAdjust="spacingAndGlyphs"><tspan font-style="italic">&#956;</tspan><tspan font-size="30" dy="8" font-style="italic">h</tspan><tspan dy="-8">(</tspan><tspan font-style="italic">&#951;</tspan>)<tspan dx="16">(truth)</tspan></text>
<text x="1149.0" y="1552" font-size="44" fill="#333" font-family='"Liberation Serif", serif' textLength="96.0" lengthAdjust="spacingAndGlyphs"><tspan font-style="italic">&#956;</tspan><tspan font-size="30" dy="8" font-style="italic">h</tspan><tspan dy="-8">(</tspan><tspan font-style="italic">&#951;</tspan>)</text>
</svg>
</body></html>
